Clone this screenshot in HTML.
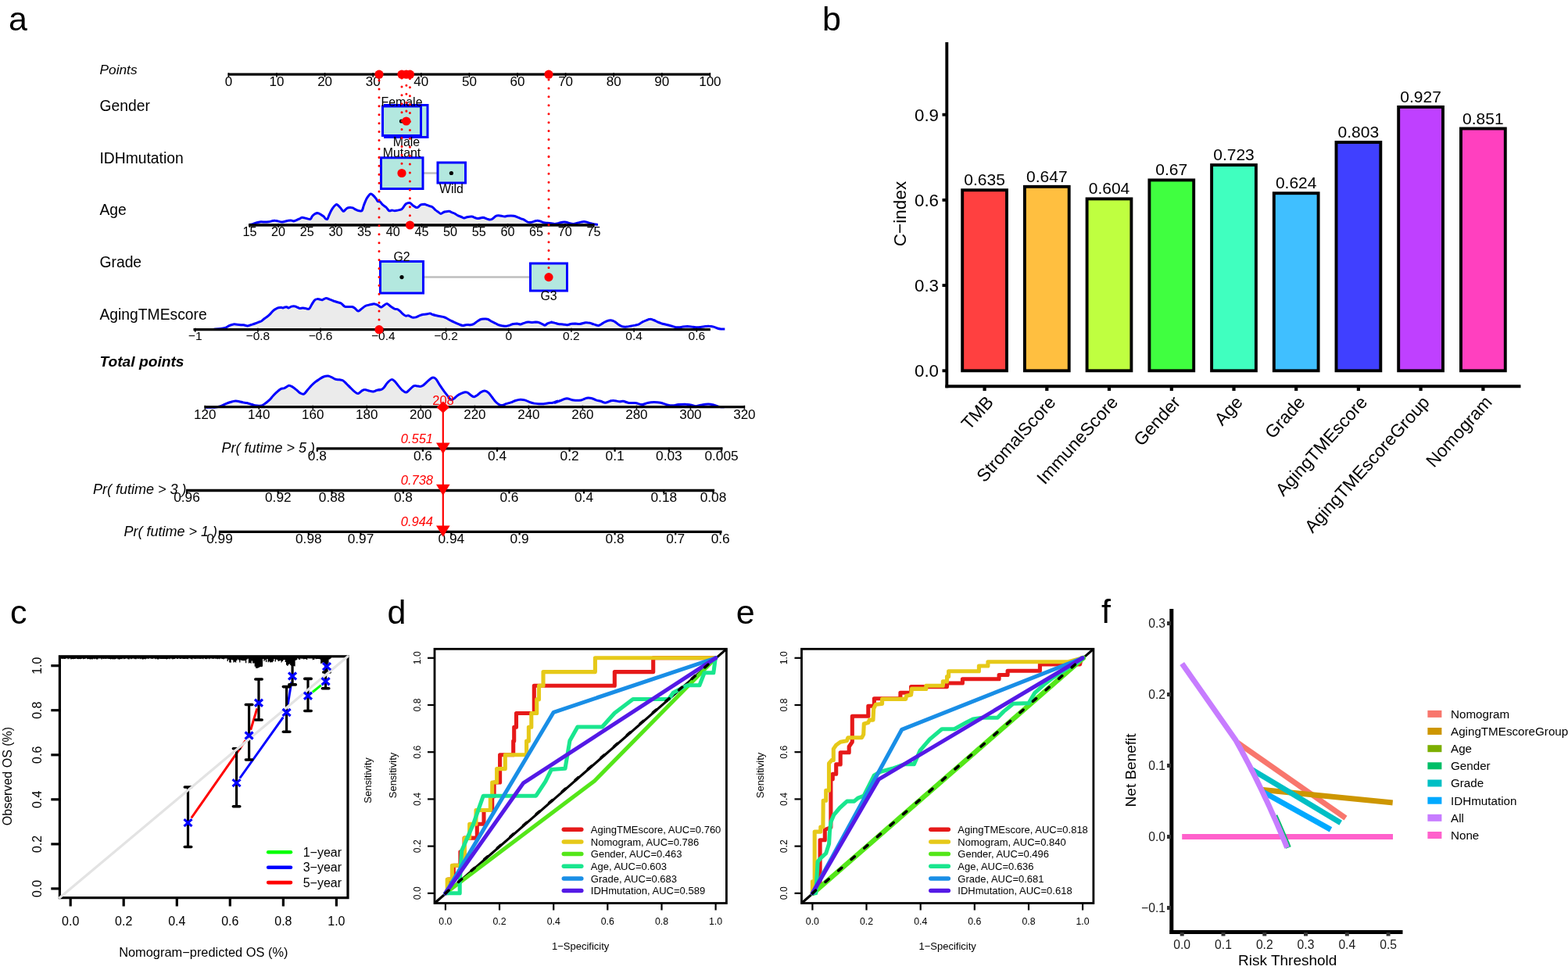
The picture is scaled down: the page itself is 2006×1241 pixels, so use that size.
<!DOCTYPE html>
<html><head><meta charset="utf-8"><title>Figure</title>
<style>html,body{margin:0;padding:0;background:#fff;} svg{display:block;}</style></head>
<body><svg width="2006" height="1241" viewBox="0 0 2006 1241" font-family="'Liberation Sans', Arial, sans-serif">
<rect width="2006" height="1241" fill="#fff"/>
<text x="11.0" y="39.0" font-size="43">a</text>
<text x="127.5" y="95.0" font-size="17.3" font-style="italic">Points</text>
<text x="127.5" y="142.2" font-size="19.3">Gender</text>
<text x="127.5" y="208.9" font-size="19.3">IDHmutation</text>
<text x="127.5" y="275.4" font-size="19.3">Age</text>
<text x="127.5" y="341.9" font-size="19.3">Grade</text>
<text x="127.5" y="408.6" font-size="19.3">AgingTMEscore</text>
<text x="127.5" y="468.5" font-size="19.2" font-style="italic" font-weight="bold">Total points</text>
<line x1="291.6" y1="95.2" x2="909.0" y2="95.2" stroke="#000" stroke-width="3.3"/>
<line x1="292.4" y1="93.2" x2="292.4" y2="98.7" stroke="#000" stroke-width="1.6"/>
<text x="292.4" y="110.0" font-size="17" text-anchor="middle">0</text>
<line x1="354.0" y1="93.2" x2="354.0" y2="98.7" stroke="#000" stroke-width="1.6"/>
<text x="354.0" y="110.0" font-size="17" text-anchor="middle">10</text>
<line x1="415.6" y1="93.2" x2="415.6" y2="98.7" stroke="#000" stroke-width="1.6"/>
<text x="415.6" y="110.0" font-size="17" text-anchor="middle">20</text>
<line x1="477.2" y1="93.2" x2="477.2" y2="98.7" stroke="#000" stroke-width="1.6"/>
<text x="477.2" y="110.0" font-size="17" text-anchor="middle">30</text>
<line x1="538.8" y1="93.2" x2="538.8" y2="98.7" stroke="#000" stroke-width="1.6"/>
<text x="538.8" y="110.0" font-size="17" text-anchor="middle">40</text>
<line x1="600.4" y1="93.2" x2="600.4" y2="98.7" stroke="#000" stroke-width="1.6"/>
<text x="600.4" y="110.0" font-size="17" text-anchor="middle">50</text>
<line x1="662.0" y1="93.2" x2="662.0" y2="98.7" stroke="#000" stroke-width="1.6"/>
<text x="662.0" y="110.0" font-size="17" text-anchor="middle">60</text>
<line x1="723.6" y1="93.2" x2="723.6" y2="98.7" stroke="#000" stroke-width="1.6"/>
<text x="723.6" y="110.0" font-size="17" text-anchor="middle">70</text>
<line x1="785.2" y1="93.2" x2="785.2" y2="98.7" stroke="#000" stroke-width="1.6"/>
<text x="785.2" y="110.0" font-size="17" text-anchor="middle">80</text>
<line x1="846.8" y1="93.2" x2="846.8" y2="98.7" stroke="#000" stroke-width="1.6"/>
<text x="846.8" y="110.0" font-size="17" text-anchor="middle">90</text>
<line x1="908.4" y1="93.2" x2="908.4" y2="98.7" stroke="#000" stroke-width="1.6"/>
<text x="908.4" y="110.0" font-size="17" text-anchor="middle">100</text>
<rect x="492.5" y="134.5" width="54.5" height="41.0" fill="#B3E8DF" stroke="#0000FF" stroke-width="3"/>
<rect x="489.5" y="136.0" width="49.0" height="37.5" fill="#B3E8DF" stroke="#0000FF" stroke-width="3"/>
<circle cx="513.5" cy="155" r="2.6" fill="#000"/>
<text x="514.0" y="136.0" font-size="15.9" text-anchor="middle">Female</text>
<text x="520.0" y="187.0" font-size="15.9" text-anchor="middle">Male</text>
<line x1="541.0" y1="221.5" x2="560.0" y2="221.5" stroke="#BEBEBE" stroke-width="2.5"/>
<rect x="487.5" y="201.8" width="53.5" height="39.7" fill="#B3E8DF" stroke="#0000FF" stroke-width="3"/>
<rect x="560.0" y="208.0" width="35.5" height="26.0" fill="#B3E8DF" stroke="#0000FF" stroke-width="3"/>
<circle cx="577.4" cy="221.5" r="2.6" fill="#000"/>
<text x="514.0" y="200.5" font-size="15.9" text-anchor="middle">Mutant</text>
<text x="577.5" y="246.5" font-size="15.9" text-anchor="middle">Wild</text>
<path d="M319.0,287.6C319.7,287.5 321.7,287.1 323.2,286.7C324.7,286.2 326.2,285.5 327.9,285.0C329.7,284.5 332.1,284.0 333.9,283.8C335.7,283.7 337.1,284.1 338.7,284.1C340.3,284.1 341.9,284.1 343.5,283.8C345.1,283.6 346.9,282.9 348.3,282.6C349.7,282.4 350.7,282.2 351.9,282.3C353.1,282.3 354.1,282.6 355.5,282.9C356.9,283.2 358.9,284.0 360.3,284.1C361.6,284.2 362.4,283.8 363.8,283.5C365.2,283.2 367.2,282.5 368.6,282.3C370.0,282.0 371.0,281.8 372.2,281.9C373.4,282.0 374.6,282.9 375.8,282.9C377.0,282.8 378.0,282.3 379.4,281.7C380.8,281.1 383.0,279.8 384.2,279.3C385.4,278.7 385.4,278.3 386.6,278.3C387.8,278.3 390.2,279.0 391.4,279.3C392.6,279.5 392.8,279.7 393.8,279.9C394.7,280.0 396.3,280.8 397.3,280.2C398.3,279.6 398.7,277.4 399.7,276.3C400.7,275.1 402.1,273.9 403.3,273.3C404.5,272.7 405.7,272.5 406.9,272.7C408.1,272.9 409.3,273.8 410.5,274.5C411.7,275.2 413.1,276.0 414.1,276.9C415.1,277.8 415.7,279.3 416.5,279.9C417.3,280.4 418.1,281.1 418.9,280.2C419.7,279.3 420.3,276.6 421.3,274.5C422.3,272.3 423.5,269.4 424.9,267.3C426.3,265.2 428.4,262.8 429.6,261.9C430.8,261.1 431.0,261.6 432.0,262.3C433.0,263.0 434.4,264.8 435.6,266.1C436.8,267.4 438.2,269.9 439.2,270.3C440.2,270.7 440.8,269.2 441.6,268.5C442.4,267.8 443.0,266.8 444.0,266.3C445.0,265.8 446.4,265.6 447.6,265.5C448.8,265.4 450.2,265.6 451.2,265.9C452.2,266.2 452.6,266.8 453.6,267.3C454.6,267.8 456.2,268.7 457.2,269.1C458.2,269.5 458.6,269.6 459.6,269.7C460.6,269.8 462.1,270.7 463.1,269.5C464.1,268.3 464.5,265.1 465.5,262.5C466.5,260.0 467.7,256.5 469.1,254.1C470.5,251.8 472.5,248.9 473.9,248.2C475.3,247.5 476.3,249.0 477.5,250.0C478.7,251.0 480.1,252.8 481.1,254.1C482.1,255.4 482.7,257.1 483.5,257.7C484.3,258.3 484.9,257.0 485.9,257.7C486.9,258.4 488.1,260.6 489.5,261.9C490.9,263.2 492.9,264.2 494.3,265.5C495.7,266.8 496.6,269.1 497.8,269.7C499.0,270.3 500.2,269.1 501.4,269.1C502.6,269.1 503.8,269.7 505.0,269.7C506.2,269.7 507.2,269.4 508.6,269.1C510.0,268.8 512.2,268.5 513.4,267.9C514.6,267.3 514.8,266.7 515.8,265.5C516.8,264.3 518.0,261.7 519.4,260.7C520.8,259.7 522.8,259.2 524.2,259.5C525.6,259.8 526.4,261.5 527.8,262.5C529.2,263.5 531.3,265.1 532.5,265.5C533.7,265.9 533.9,265.5 534.9,264.9C535.9,264.3 537.1,262.5 538.5,261.9C539.9,261.3 542.3,261.3 543.3,261.3C544.4,261.3 543.7,261.5 544.8,261.9C545.8,262.3 548.2,263.2 549.6,263.7C551.0,264.2 552.0,264.1 553.2,264.9C554.4,265.7 555.6,267.5 556.8,268.5C557.9,269.5 559.1,270.1 560.3,270.9C561.5,271.7 562.7,273.4 563.9,273.5C565.1,273.6 566.3,272.0 567.5,271.5C568.7,271.0 569.9,270.9 571.1,270.7C572.3,270.5 573.5,270.1 574.7,270.3C575.9,270.5 577.1,271.4 578.3,271.9C579.5,272.3 580.7,272.6 581.9,273.3C583.1,273.9 584.1,275.0 585.5,275.7C586.9,276.4 588.9,276.9 590.3,277.5C591.6,278.0 592.6,279.0 593.8,279.0C595.0,279.1 595.8,278.2 597.4,277.8C599.0,277.5 601.6,277.0 603.4,277.1C605.2,277.3 606.8,278.3 608.2,278.7C609.6,279.1 610.2,279.6 611.8,279.5C613.4,279.4 616.0,278.3 617.8,278.3C619.6,278.4 621.2,279.4 622.6,279.9C624.0,280.3 624.9,281.0 626.1,281.1C627.3,281.1 628.3,281.0 629.7,280.2C631.1,279.4 633.1,277.0 634.5,276.3C635.9,275.5 636.9,275.7 638.1,275.7C639.3,275.7 640.5,276.0 641.7,276.3C642.9,276.5 644.1,277.1 645.3,277.1C646.5,277.1 647.5,276.5 648.9,276.3C650.3,276.1 652.3,275.9 653.7,275.9C655.1,275.9 655.9,276.0 657.3,276.3C658.6,276.6 660.4,277.2 662.0,277.8C663.6,278.4 665.4,279.3 666.8,279.9C668.2,280.4 669.0,280.4 670.4,281.1C671.8,281.8 673.6,283.5 675.2,284.1C676.8,284.6 678.6,284.5 680.0,284.3C681.4,284.1 682.4,283.4 683.6,283.1C684.8,282.8 686.0,282.3 687.2,282.3C688.4,282.2 689.4,282.5 690.8,282.9C692.1,283.3 693.9,284.3 695.5,284.7C697.1,285.1 698.7,285.1 700.3,285.3C701.9,285.5 703.5,285.7 705.1,285.8C706.7,286.0 708.3,286.5 709.9,286.4C711.5,286.4 713.1,285.8 714.7,285.5C716.3,285.1 717.9,284.5 719.5,284.3C721.1,284.1 722.7,284.0 724.3,284.3C725.8,284.6 727.4,285.5 729.0,285.8C730.6,286.2 732.2,286.5 733.8,286.4C735.4,286.3 737.0,285.7 738.6,285.3C740.2,284.9 742.0,284.4 743.4,284.1C744.8,283.8 745.8,283.5 747.0,283.5C748.2,283.5 749.2,283.7 750.6,284.1C752.0,284.5 753.8,285.4 755.4,285.8C757.0,286.3 758.6,286.4 760.1,286.7C761.7,286.9 764.1,287.3 764.9,287.4L764.9,288.0L319.0,288.0Z" fill="#EBEBEB" stroke="none"/>
<path d="M319.0,287.6C319.7,287.5 321.7,287.1 323.2,286.7C324.7,286.2 326.2,285.5 327.9,285.0C329.7,284.5 332.1,284.0 333.9,283.8C335.7,283.7 337.1,284.1 338.7,284.1C340.3,284.1 341.9,284.1 343.5,283.8C345.1,283.6 346.9,282.9 348.3,282.6C349.7,282.4 350.7,282.2 351.9,282.3C353.1,282.3 354.1,282.6 355.5,282.9C356.9,283.2 358.9,284.0 360.3,284.1C361.6,284.2 362.4,283.8 363.8,283.5C365.2,283.2 367.2,282.5 368.6,282.3C370.0,282.0 371.0,281.8 372.2,281.9C373.4,282.0 374.6,282.9 375.8,282.9C377.0,282.8 378.0,282.3 379.4,281.7C380.8,281.1 383.0,279.8 384.2,279.3C385.4,278.7 385.4,278.3 386.6,278.3C387.8,278.3 390.2,279.0 391.4,279.3C392.6,279.5 392.8,279.7 393.8,279.9C394.7,280.0 396.3,280.8 397.3,280.2C398.3,279.6 398.7,277.4 399.7,276.3C400.7,275.1 402.1,273.9 403.3,273.3C404.5,272.7 405.7,272.5 406.9,272.7C408.1,272.9 409.3,273.8 410.5,274.5C411.7,275.2 413.1,276.0 414.1,276.9C415.1,277.8 415.7,279.3 416.5,279.9C417.3,280.4 418.1,281.1 418.9,280.2C419.7,279.3 420.3,276.6 421.3,274.5C422.3,272.3 423.5,269.4 424.9,267.3C426.3,265.2 428.4,262.8 429.6,261.9C430.8,261.1 431.0,261.6 432.0,262.3C433.0,263.0 434.4,264.8 435.6,266.1C436.8,267.4 438.2,269.9 439.2,270.3C440.2,270.7 440.8,269.2 441.6,268.5C442.4,267.8 443.0,266.8 444.0,266.3C445.0,265.8 446.4,265.6 447.6,265.5C448.8,265.4 450.2,265.6 451.2,265.9C452.2,266.2 452.6,266.8 453.6,267.3C454.6,267.8 456.2,268.7 457.2,269.1C458.2,269.5 458.6,269.6 459.6,269.7C460.6,269.8 462.1,270.7 463.1,269.5C464.1,268.3 464.5,265.1 465.5,262.5C466.5,260.0 467.7,256.5 469.1,254.1C470.5,251.8 472.5,248.9 473.9,248.2C475.3,247.5 476.3,249.0 477.5,250.0C478.7,251.0 480.1,252.8 481.1,254.1C482.1,255.4 482.7,257.1 483.5,257.7C484.3,258.3 484.9,257.0 485.9,257.7C486.9,258.4 488.1,260.6 489.5,261.9C490.9,263.2 492.9,264.2 494.3,265.5C495.7,266.8 496.6,269.1 497.8,269.7C499.0,270.3 500.2,269.1 501.4,269.1C502.6,269.1 503.8,269.7 505.0,269.7C506.2,269.7 507.2,269.4 508.6,269.1C510.0,268.8 512.2,268.5 513.4,267.9C514.6,267.3 514.8,266.7 515.8,265.5C516.8,264.3 518.0,261.7 519.4,260.7C520.8,259.7 522.8,259.2 524.2,259.5C525.6,259.8 526.4,261.5 527.8,262.5C529.2,263.5 531.3,265.1 532.5,265.5C533.7,265.9 533.9,265.5 534.9,264.9C535.9,264.3 537.1,262.5 538.5,261.9C539.9,261.3 542.3,261.3 543.3,261.3C544.4,261.3 543.7,261.5 544.8,261.9C545.8,262.3 548.2,263.2 549.6,263.7C551.0,264.2 552.0,264.1 553.2,264.9C554.4,265.7 555.6,267.5 556.8,268.5C557.9,269.5 559.1,270.1 560.3,270.9C561.5,271.7 562.7,273.4 563.9,273.5C565.1,273.6 566.3,272.0 567.5,271.5C568.7,271.0 569.9,270.9 571.1,270.7C572.3,270.5 573.5,270.1 574.7,270.3C575.9,270.5 577.1,271.4 578.3,271.9C579.5,272.3 580.7,272.6 581.9,273.3C583.1,273.9 584.1,275.0 585.5,275.7C586.9,276.4 588.9,276.9 590.3,277.5C591.6,278.0 592.6,279.0 593.8,279.0C595.0,279.1 595.8,278.2 597.4,277.8C599.0,277.5 601.6,277.0 603.4,277.1C605.2,277.3 606.8,278.3 608.2,278.7C609.6,279.1 610.2,279.6 611.8,279.5C613.4,279.4 616.0,278.3 617.8,278.3C619.6,278.4 621.2,279.4 622.6,279.9C624.0,280.3 624.9,281.0 626.1,281.1C627.3,281.1 628.3,281.0 629.7,280.2C631.1,279.4 633.1,277.0 634.5,276.3C635.9,275.5 636.9,275.7 638.1,275.7C639.3,275.7 640.5,276.0 641.7,276.3C642.9,276.5 644.1,277.1 645.3,277.1C646.5,277.1 647.5,276.5 648.9,276.3C650.3,276.1 652.3,275.9 653.7,275.9C655.1,275.9 655.9,276.0 657.3,276.3C658.6,276.6 660.4,277.2 662.0,277.8C663.6,278.4 665.4,279.3 666.8,279.9C668.2,280.4 669.0,280.4 670.4,281.1C671.8,281.8 673.6,283.5 675.2,284.1C676.8,284.6 678.6,284.5 680.0,284.3C681.4,284.1 682.4,283.4 683.6,283.1C684.8,282.8 686.0,282.3 687.2,282.3C688.4,282.2 689.4,282.5 690.8,282.9C692.1,283.3 693.9,284.3 695.5,284.7C697.1,285.1 698.7,285.1 700.3,285.3C701.9,285.5 703.5,285.7 705.1,285.8C706.7,286.0 708.3,286.5 709.9,286.4C711.5,286.4 713.1,285.8 714.7,285.5C716.3,285.1 717.9,284.5 719.5,284.3C721.1,284.1 722.7,284.0 724.3,284.3C725.8,284.6 727.4,285.5 729.0,285.8C730.6,286.2 732.2,286.5 733.8,286.4C735.4,286.3 737.0,285.7 738.6,285.3C740.2,284.9 742.0,284.4 743.4,284.1C744.8,283.8 745.8,283.5 747.0,283.5C748.2,283.5 749.2,283.7 750.6,284.1C752.0,284.5 753.8,285.4 755.4,285.8C757.0,286.3 758.6,286.4 760.1,286.7C761.7,286.9 764.1,287.3 764.9,287.4" fill="none" stroke="#0000FF" stroke-width="3" stroke-linejoin="round"/>
<line x1="318.0" y1="288.0" x2="760.5" y2="288.0" stroke="#000" stroke-width="3.3"/>
<line x1="319.4" y1="286.0" x2="319.4" y2="291.0" stroke="#000" stroke-width="1.6"/>
<text x="319.4" y="302.2" font-size="16.2" text-anchor="middle">15</text>
<line x1="356.1" y1="286.0" x2="356.1" y2="291.0" stroke="#000" stroke-width="1.6"/>
<text x="356.1" y="302.2" font-size="16.2" text-anchor="middle">20</text>
<line x1="392.8" y1="286.0" x2="392.8" y2="291.0" stroke="#000" stroke-width="1.6"/>
<text x="392.8" y="302.2" font-size="16.2" text-anchor="middle">25</text>
<line x1="429.4" y1="286.0" x2="429.4" y2="291.0" stroke="#000" stroke-width="1.6"/>
<text x="429.4" y="302.2" font-size="16.2" text-anchor="middle">30</text>
<line x1="466.1" y1="286.0" x2="466.1" y2="291.0" stroke="#000" stroke-width="1.6"/>
<text x="466.1" y="302.2" font-size="16.2" text-anchor="middle">35</text>
<line x1="502.8" y1="286.0" x2="502.8" y2="291.0" stroke="#000" stroke-width="1.6"/>
<text x="502.8" y="302.2" font-size="16.2" text-anchor="middle">40</text>
<line x1="539.5" y1="286.0" x2="539.5" y2="291.0" stroke="#000" stroke-width="1.6"/>
<text x="539.5" y="302.2" font-size="16.2" text-anchor="middle">45</text>
<line x1="576.1" y1="286.0" x2="576.1" y2="291.0" stroke="#000" stroke-width="1.6"/>
<text x="576.1" y="302.2" font-size="16.2" text-anchor="middle">50</text>
<line x1="612.8" y1="286.0" x2="612.8" y2="291.0" stroke="#000" stroke-width="1.6"/>
<text x="612.8" y="302.2" font-size="16.2" text-anchor="middle">55</text>
<line x1="649.5" y1="286.0" x2="649.5" y2="291.0" stroke="#000" stroke-width="1.6"/>
<text x="649.5" y="302.2" font-size="16.2" text-anchor="middle">60</text>
<line x1="686.1" y1="286.0" x2="686.1" y2="291.0" stroke="#000" stroke-width="1.6"/>
<text x="686.1" y="302.2" font-size="16.2" text-anchor="middle">65</text>
<line x1="722.8" y1="286.0" x2="722.8" y2="291.0" stroke="#000" stroke-width="1.6"/>
<text x="722.8" y="302.2" font-size="16.2" text-anchor="middle">70</text>
<line x1="759.5" y1="286.0" x2="759.5" y2="291.0" stroke="#000" stroke-width="1.6"/>
<text x="759.5" y="302.2" font-size="16.2" text-anchor="middle">75</text>
<line x1="541.5" y1="354.6" x2="678.0" y2="354.6" stroke="#BEBEBE" stroke-width="2.5"/>
<rect x="486.5" y="334.5" width="55.0" height="40.5" fill="#B3E8DF" stroke="#0000FF" stroke-width="3"/>
<rect x="678.5" y="337.0" width="47.0" height="35.0" fill="#B3E8DF" stroke="#0000FF" stroke-width="3"/>
<circle cx="514" cy="354.6" r="2.6" fill="#000"/>
<text x="514.0" y="334.0" font-size="15.9" text-anchor="middle">G2</text>
<text x="702.0" y="384.0" font-size="15.9" text-anchor="middle">G3</text>
<path d="M273.5,421.2C274.5,421.1 277.5,421.0 279.5,420.8C281.5,420.7 283.9,420.3 285.5,420.0C287.1,419.7 287.7,419.7 289.1,419.1C290.5,418.5 292.2,417.1 293.8,416.4C295.4,415.7 297.0,415.1 298.6,414.9C300.2,414.7 301.8,415.1 303.4,415.2C305.0,415.4 306.8,415.6 308.2,415.7C309.6,415.8 310.4,415.5 311.8,415.7C313.2,415.9 315.0,416.9 316.6,416.9C318.2,416.9 319.8,415.9 321.4,415.5C323.0,415.0 324.5,414.6 326.1,414.0C327.7,413.5 329.5,412.7 330.9,412.1C332.3,411.6 333.3,411.4 334.5,410.7C335.7,409.9 336.9,408.6 338.1,407.7C339.3,406.8 340.5,406.2 341.7,405.3C342.9,404.4 344.1,403.3 345.3,402.1C346.5,400.9 347.7,399.2 348.9,398.1C350.1,397.0 351.3,396.1 352.5,395.4C353.7,394.6 354.9,394.0 356.1,393.7C357.3,393.4 358.6,393.3 359.6,393.3C360.6,393.4 361.2,394.0 362.0,393.9C362.8,393.9 363.6,393.2 364.4,393.0C365.2,392.8 366.0,392.6 366.8,392.7C367.6,392.9 368.2,394.0 369.2,393.9C370.2,393.8 371.6,392.5 372.8,392.1C374.0,391.8 375.2,391.6 376.4,391.8C377.6,391.9 378.8,392.5 380.0,393.0C381.2,393.4 382.4,394.4 383.6,394.5C384.8,394.7 386.0,393.9 387.2,393.9C388.4,393.9 389.4,394.3 390.8,394.5C392.1,394.7 394.1,396.0 395.5,395.1C396.9,394.2 397.9,391.0 399.1,389.1C400.3,387.2 401.5,384.9 402.7,383.8C403.9,382.7 405.1,382.7 406.3,382.6C407.5,382.5 408.9,383.0 409.9,383.2C410.9,383.4 411.1,384.1 412.3,383.8C413.5,383.5 415.5,381.5 417.1,381.4C418.7,381.3 420.3,382.6 421.9,383.2C423.5,383.8 425.1,384.4 426.6,385.0C428.2,385.5 429.8,386.0 431.4,386.5C433.0,387.0 434.6,387.0 436.2,387.9C437.8,388.9 439.4,391.4 441.0,392.1C442.6,392.9 444.2,392.4 445.8,392.5C447.4,392.6 449.2,392.2 450.6,392.5C452.0,392.8 452.9,393.6 454.2,394.5C455.5,395.5 457.0,398.0 458.4,398.1C459.7,398.2 461.0,396.2 462.5,395.1C464.0,394.0 465.7,392.4 467.3,391.5C468.9,390.7 470.5,390.5 472.1,390.1C473.7,389.7 476.5,389.3 476.9,389.1C477.3,389.0 474.3,389.4 474.8,389.4C475.2,389.3 478.2,388.7 479.6,388.9C481.0,389.1 481.9,389.7 483.2,390.3C484.5,391.0 486.1,392.9 487.3,393.0C488.6,393.1 489.6,391.7 490.9,390.9C492.2,390.2 493.6,388.3 495.1,388.5C496.6,388.7 498.3,391.0 499.9,392.1C501.5,393.2 503.3,394.5 504.7,395.1C506.1,395.7 507.1,395.2 508.3,395.7C509.5,396.2 510.7,397.1 511.9,398.1C513.1,399.1 514.3,400.7 515.5,401.7C516.7,402.7 517.9,403.8 519.1,404.1C520.3,404.4 521.2,403.4 522.6,403.7C524.0,404.1 525.8,405.8 527.4,406.1C529.0,406.5 530.6,406.3 532.2,405.9C533.8,405.5 535.4,404.3 537.0,403.7C538.6,403.1 540.2,402.6 541.8,402.3C543.4,402.0 545.2,401.9 546.6,401.7C548.0,401.5 549.0,401.0 550.2,401.1C551.4,401.2 552.4,402.1 553.8,402.5C555.1,403.0 556.9,403.4 558.5,403.7C560.1,404.1 561.7,404.4 563.3,404.7C564.9,405.0 566.5,405.1 568.1,405.7C569.7,406.2 571.3,407.2 572.9,408.0C574.5,408.9 576.1,409.9 577.7,410.7C579.3,411.5 580.9,412.1 582.5,412.8C584.1,413.5 585.7,414.3 587.3,414.9C588.8,415.5 590.4,416.3 592.0,416.4C593.6,416.5 595.2,415.6 596.8,415.5C598.4,415.3 600.0,415.9 601.6,415.7C603.2,415.5 604.8,415.1 606.4,414.3C608.0,413.4 609.6,411.7 611.2,410.7C612.8,409.7 614.4,408.7 616.0,408.3C617.6,407.8 619.4,408.0 620.8,408.0C622.1,408.1 622.9,408.0 624.3,408.5C625.7,409.1 627.5,410.4 629.1,411.3C630.7,412.1 632.5,412.9 633.9,413.7C635.3,414.4 636.1,415.2 637.5,415.7C638.9,416.2 640.7,416.4 642.3,416.7C643.9,416.9 645.5,417.4 647.1,417.3C648.7,417.2 650.3,416.5 651.9,416.1C653.5,415.6 655.1,414.8 656.6,414.5C658.2,414.2 659.8,414.0 661.4,414.0C663.0,414.1 664.6,415.0 666.2,414.9C667.8,414.7 669.4,413.5 671.0,413.1C672.6,412.6 674.2,412.2 675.8,412.1C677.4,412.0 679.0,412.5 680.6,412.5C682.2,412.5 683.8,412.1 685.4,412.1C687.0,412.2 688.6,412.3 690.1,412.8C691.7,413.4 693.7,414.7 694.9,415.2C696.1,415.8 696.3,416.3 697.3,416.1C698.3,415.8 699.5,414.3 700.9,413.7C702.3,413.0 705.1,412.3 705.7,412.1C706.3,411.9 704.1,412.3 704.8,412.5C705.4,412.6 708.0,412.7 709.6,413.1C711.2,413.4 712.6,414.2 714.4,414.5C716.2,414.8 718.4,414.7 720.3,414.9C722.2,415.1 723.9,415.8 725.7,415.7C727.5,415.6 729.4,414.5 731.1,414.3C732.8,414.0 734.1,414.0 735.9,414.0C737.7,414.1 739.7,414.7 741.9,414.5C744.1,414.3 747.1,413.1 749.1,412.8C751.0,412.6 752.0,412.7 753.8,413.1C755.6,413.4 757.8,414.3 759.8,414.9C761.8,415.4 763.8,416.7 765.8,416.4C767.8,416.1 770.0,414.0 771.8,413.1C773.6,412.1 775.0,411.2 776.6,410.7C778.2,410.1 779.8,409.6 781.4,409.7C783.0,409.8 784.5,410.4 786.1,411.3C787.7,412.1 789.3,413.8 790.9,414.9C792.5,415.9 793.9,417.1 795.7,417.6C797.5,418.2 799.7,418.2 801.7,418.1C803.7,418.0 805.9,417.2 807.7,416.9C809.5,416.6 810.9,416.4 812.5,416.1C814.1,415.7 815.7,415.6 817.3,414.9C818.8,414.2 820.4,412.7 822.0,411.9C823.6,411.0 825.2,410.4 826.8,409.8C828.4,409.2 830.0,408.3 831.6,408.3C833.2,408.2 834.8,408.9 836.4,409.5C838.0,410.1 839.6,411.2 841.2,411.9C842.8,412.6 844.2,413.1 846.0,413.7C847.8,414.2 850.0,414.7 852.0,415.2C853.9,415.7 855.9,416.1 857.9,416.7C859.9,417.2 862.1,418.1 863.9,418.5C865.7,418.8 867.1,418.9 868.7,418.8C870.3,418.8 871.7,418.3 873.5,418.1C875.3,417.9 877.7,417.7 879.5,417.6C881.3,417.6 882.5,417.7 884.3,417.9C886.0,418.1 888.2,418.7 890.2,418.8C892.2,418.9 894.2,418.7 896.2,418.5C898.2,418.3 900.4,417.8 902.2,417.6C904.0,417.4 905.2,417.2 907.0,417.3C908.8,417.3 911.2,417.6 913.0,418.1C914.8,418.6 916.2,419.5 917.8,420.0C919.4,420.5 920.9,420.8 922.5,421.0C924.1,421.1 926.5,421.0 927.3,421.0L927.3,421.7L273.5,421.7Z" fill="#EBEBEB" stroke="none"/>
<path d="M273.5,421.2C274.5,421.1 277.5,421.0 279.5,420.8C281.5,420.7 283.9,420.3 285.5,420.0C287.1,419.7 287.7,419.7 289.1,419.1C290.5,418.5 292.2,417.1 293.8,416.4C295.4,415.7 297.0,415.1 298.6,414.9C300.2,414.7 301.8,415.1 303.4,415.2C305.0,415.4 306.8,415.6 308.2,415.7C309.6,415.8 310.4,415.5 311.8,415.7C313.2,415.9 315.0,416.9 316.6,416.9C318.2,416.9 319.8,415.9 321.4,415.5C323.0,415.0 324.5,414.6 326.1,414.0C327.7,413.5 329.5,412.7 330.9,412.1C332.3,411.6 333.3,411.4 334.5,410.7C335.7,409.9 336.9,408.6 338.1,407.7C339.3,406.8 340.5,406.2 341.7,405.3C342.9,404.4 344.1,403.3 345.3,402.1C346.5,400.9 347.7,399.2 348.9,398.1C350.1,397.0 351.3,396.1 352.5,395.4C353.7,394.6 354.9,394.0 356.1,393.7C357.3,393.4 358.6,393.3 359.6,393.3C360.6,393.4 361.2,394.0 362.0,393.9C362.8,393.9 363.6,393.2 364.4,393.0C365.2,392.8 366.0,392.6 366.8,392.7C367.6,392.9 368.2,394.0 369.2,393.9C370.2,393.8 371.6,392.5 372.8,392.1C374.0,391.8 375.2,391.6 376.4,391.8C377.6,391.9 378.8,392.5 380.0,393.0C381.2,393.4 382.4,394.4 383.6,394.5C384.8,394.7 386.0,393.9 387.2,393.9C388.4,393.9 389.4,394.3 390.8,394.5C392.1,394.7 394.1,396.0 395.5,395.1C396.9,394.2 397.9,391.0 399.1,389.1C400.3,387.2 401.5,384.9 402.7,383.8C403.9,382.7 405.1,382.7 406.3,382.6C407.5,382.5 408.9,383.0 409.9,383.2C410.9,383.4 411.1,384.1 412.3,383.8C413.5,383.5 415.5,381.5 417.1,381.4C418.7,381.3 420.3,382.6 421.9,383.2C423.5,383.8 425.1,384.4 426.6,385.0C428.2,385.5 429.8,386.0 431.4,386.5C433.0,387.0 434.6,387.0 436.2,387.9C437.8,388.9 439.4,391.4 441.0,392.1C442.6,392.9 444.2,392.4 445.8,392.5C447.4,392.6 449.2,392.2 450.6,392.5C452.0,392.8 452.9,393.6 454.2,394.5C455.5,395.5 457.0,398.0 458.4,398.1C459.7,398.2 461.0,396.2 462.5,395.1C464.0,394.0 465.7,392.4 467.3,391.5C468.9,390.7 470.5,390.5 472.1,390.1C473.7,389.7 476.5,389.3 476.9,389.1C477.3,389.0 474.3,389.4 474.8,389.4C475.2,389.3 478.2,388.7 479.6,388.9C481.0,389.1 481.9,389.7 483.2,390.3C484.5,391.0 486.1,392.9 487.3,393.0C488.6,393.1 489.6,391.7 490.9,390.9C492.2,390.2 493.6,388.3 495.1,388.5C496.6,388.7 498.3,391.0 499.9,392.1C501.5,393.2 503.3,394.5 504.7,395.1C506.1,395.7 507.1,395.2 508.3,395.7C509.5,396.2 510.7,397.1 511.9,398.1C513.1,399.1 514.3,400.7 515.5,401.7C516.7,402.7 517.9,403.8 519.1,404.1C520.3,404.4 521.2,403.4 522.6,403.7C524.0,404.1 525.8,405.8 527.4,406.1C529.0,406.5 530.6,406.3 532.2,405.9C533.8,405.5 535.4,404.3 537.0,403.7C538.6,403.1 540.2,402.6 541.8,402.3C543.4,402.0 545.2,401.9 546.6,401.7C548.0,401.5 549.0,401.0 550.2,401.1C551.4,401.2 552.4,402.1 553.8,402.5C555.1,403.0 556.9,403.4 558.5,403.7C560.1,404.1 561.7,404.4 563.3,404.7C564.9,405.0 566.5,405.1 568.1,405.7C569.7,406.2 571.3,407.2 572.9,408.0C574.5,408.9 576.1,409.9 577.7,410.7C579.3,411.5 580.9,412.1 582.5,412.8C584.1,413.5 585.7,414.3 587.3,414.9C588.8,415.5 590.4,416.3 592.0,416.4C593.6,416.5 595.2,415.6 596.8,415.5C598.4,415.3 600.0,415.9 601.6,415.7C603.2,415.5 604.8,415.1 606.4,414.3C608.0,413.4 609.6,411.7 611.2,410.7C612.8,409.7 614.4,408.7 616.0,408.3C617.6,407.8 619.4,408.0 620.8,408.0C622.1,408.1 622.9,408.0 624.3,408.5C625.7,409.1 627.5,410.4 629.1,411.3C630.7,412.1 632.5,412.9 633.9,413.7C635.3,414.4 636.1,415.2 637.5,415.7C638.9,416.2 640.7,416.4 642.3,416.7C643.9,416.9 645.5,417.4 647.1,417.3C648.7,417.2 650.3,416.5 651.9,416.1C653.5,415.6 655.1,414.8 656.6,414.5C658.2,414.2 659.8,414.0 661.4,414.0C663.0,414.1 664.6,415.0 666.2,414.9C667.8,414.7 669.4,413.5 671.0,413.1C672.6,412.6 674.2,412.2 675.8,412.1C677.4,412.0 679.0,412.5 680.6,412.5C682.2,412.5 683.8,412.1 685.4,412.1C687.0,412.2 688.6,412.3 690.1,412.8C691.7,413.4 693.7,414.7 694.9,415.2C696.1,415.8 696.3,416.3 697.3,416.1C698.3,415.8 699.5,414.3 700.9,413.7C702.3,413.0 705.1,412.3 705.7,412.1C706.3,411.9 704.1,412.3 704.8,412.5C705.4,412.6 708.0,412.7 709.6,413.1C711.2,413.4 712.6,414.2 714.4,414.5C716.2,414.8 718.4,414.7 720.3,414.9C722.2,415.1 723.9,415.8 725.7,415.7C727.5,415.6 729.4,414.5 731.1,414.3C732.8,414.0 734.1,414.0 735.9,414.0C737.7,414.1 739.7,414.7 741.9,414.5C744.1,414.3 747.1,413.1 749.1,412.8C751.0,412.6 752.0,412.7 753.8,413.1C755.6,413.4 757.8,414.3 759.8,414.9C761.8,415.4 763.8,416.7 765.8,416.4C767.8,416.1 770.0,414.0 771.8,413.1C773.6,412.1 775.0,411.2 776.6,410.7C778.2,410.1 779.8,409.6 781.4,409.7C783.0,409.8 784.5,410.4 786.1,411.3C787.7,412.1 789.3,413.8 790.9,414.9C792.5,415.9 793.9,417.1 795.7,417.6C797.5,418.2 799.7,418.2 801.7,418.1C803.7,418.0 805.9,417.2 807.7,416.9C809.5,416.6 810.9,416.4 812.5,416.1C814.1,415.7 815.7,415.6 817.3,414.9C818.8,414.2 820.4,412.7 822.0,411.9C823.6,411.0 825.2,410.4 826.8,409.8C828.4,409.2 830.0,408.3 831.6,408.3C833.2,408.2 834.8,408.9 836.4,409.5C838.0,410.1 839.6,411.2 841.2,411.9C842.8,412.6 844.2,413.1 846.0,413.7C847.8,414.2 850.0,414.7 852.0,415.2C853.9,415.7 855.9,416.1 857.9,416.7C859.9,417.2 862.1,418.1 863.9,418.5C865.7,418.8 867.1,418.9 868.7,418.8C870.3,418.8 871.7,418.3 873.5,418.1C875.3,417.9 877.7,417.7 879.5,417.6C881.3,417.6 882.5,417.7 884.3,417.9C886.0,418.1 888.2,418.7 890.2,418.8C892.2,418.9 894.2,418.7 896.2,418.5C898.2,418.3 900.4,417.8 902.2,417.6C904.0,417.4 905.2,417.2 907.0,417.3C908.8,417.3 911.2,417.6 913.0,418.1C914.8,418.6 916.2,419.5 917.8,420.0C919.4,420.5 920.9,420.8 922.5,421.0C924.1,421.1 926.5,421.0 927.3,421.0" fill="none" stroke="#0000FF" stroke-width="3" stroke-linejoin="round"/>
<line x1="247.5" y1="421.7" x2="908.8" y2="421.7" stroke="#000" stroke-width="3.3"/>
<line x1="249.7" y1="419.7" x2="249.7" y2="424.7" stroke="#000" stroke-width="1.6"/>
<text x="249.7" y="435.0" font-size="15.5" text-anchor="middle">−1</text>
<line x1="329.9" y1="419.7" x2="329.9" y2="424.7" stroke="#000" stroke-width="1.6"/>
<text x="329.9" y="435.0" font-size="15.5" text-anchor="middle">−0.8</text>
<line x1="410.1" y1="419.7" x2="410.1" y2="424.7" stroke="#000" stroke-width="1.6"/>
<text x="410.1" y="435.0" font-size="15.5" text-anchor="middle">−0.6</text>
<line x1="490.3" y1="419.7" x2="490.3" y2="424.7" stroke="#000" stroke-width="1.6"/>
<text x="490.3" y="435.0" font-size="15.5" text-anchor="middle">−0.4</text>
<line x1="570.5" y1="419.7" x2="570.5" y2="424.7" stroke="#000" stroke-width="1.6"/>
<text x="570.5" y="435.0" font-size="15.5" text-anchor="middle">−0.2</text>
<line x1="650.7" y1="419.7" x2="650.7" y2="424.7" stroke="#000" stroke-width="1.6"/>
<text x="650.7" y="435.0" font-size="15.5" text-anchor="middle">0</text>
<line x1="730.9" y1="419.7" x2="730.9" y2="424.7" stroke="#000" stroke-width="1.6"/>
<text x="730.9" y="435.0" font-size="15.5" text-anchor="middle">0.2</text>
<line x1="811.1" y1="419.7" x2="811.1" y2="424.7" stroke="#000" stroke-width="1.6"/>
<text x="811.1" y="435.0" font-size="15.5" text-anchor="middle">0.4</text>
<line x1="891.3" y1="419.7" x2="891.3" y2="424.7" stroke="#000" stroke-width="1.6"/>
<text x="891.3" y="435.0" font-size="15.5" text-anchor="middle">0.6</text>
<path d="M262.0,521.2C264.0,521.2 270.7,521.4 273.9,521.2C277.1,521.0 278.7,520.7 281.1,520.0C283.5,519.3 285.9,517.9 288.3,516.9C290.7,515.9 293.3,514.9 295.5,514.3C297.7,513.6 299.7,513.2 301.4,513.1C303.2,513.0 304.6,513.4 306.2,513.7C307.8,514.0 309.4,514.6 311.0,514.9C312.6,515.2 314.0,515.1 315.8,515.5C317.6,515.9 320.0,516.7 321.8,517.3C323.6,517.8 324.6,518.5 326.6,518.8C328.6,519.1 331.8,519.4 333.8,519.1C335.7,518.7 336.7,517.9 338.5,516.7C340.3,515.5 342.7,513.6 344.5,511.9C346.3,510.2 347.7,508.2 349.3,506.5C350.9,504.8 352.5,503.2 354.1,501.7C355.7,500.3 357.3,498.6 358.9,497.8C360.5,496.9 361.9,497.3 363.7,496.6C365.5,495.8 367.9,493.6 369.6,493.3C371.4,493.1 372.8,494.2 374.4,495.1C376.0,496.0 377.6,497.4 379.2,498.7C380.8,500.0 382.4,502.0 384.0,502.9C385.6,503.8 387.2,504.8 388.8,504.1C390.4,503.4 392.0,500.5 393.6,498.7C395.2,496.9 396.8,495.0 398.4,493.3C400.0,491.7 401.6,490.2 403.1,488.9C404.7,487.6 406.1,486.7 407.9,485.6C409.7,484.4 411.9,482.7 413.9,482.0C415.9,481.2 418.1,480.8 419.9,481.0C421.7,481.2 423.1,482.2 424.7,482.9C426.3,483.6 427.9,484.8 429.5,485.3C431.1,485.8 432.7,485.5 434.3,485.8C435.8,486.1 437.4,486.0 439.0,487.0C440.6,487.9 442.2,490.0 443.8,491.5C445.4,493.1 447.0,494.8 448.6,496.3C450.2,497.9 451.8,499.7 453.4,500.9C455.0,502.1 456.6,503.7 458.2,503.5C459.8,503.3 461.6,500.7 463.0,499.9C464.4,499.1 465.2,498.5 466.6,498.5C468.0,498.4 469.6,499.3 471.3,499.7C473.1,500.1 475.5,500.9 477.3,500.9C479.1,500.8 480.5,499.7 482.1,499.3C483.7,498.9 486.7,498.6 486.9,498.5C487.1,498.4 483.5,498.7 483.6,498.7C483.6,498.8 486.0,499.1 487.2,498.7C488.4,498.3 489.4,497.8 490.8,496.3C492.2,494.8 493.9,491.5 495.6,489.7C497.2,487.9 499.3,485.9 500.9,485.6C502.5,485.3 503.6,486.6 505.1,487.9C506.6,489.3 508.3,492.0 509.9,493.9C511.5,495.8 513.1,498.0 514.7,499.3C516.3,500.7 517.9,502.3 519.5,502.1C521.1,501.9 522.7,499.5 524.3,498.1C525.9,496.8 527.7,494.7 529.1,493.9C530.5,493.2 531.2,493.6 532.6,493.7C534.0,493.8 536.0,494.6 537.4,494.5C538.8,494.5 539.4,494.4 541.0,493.3C542.6,492.2 545.0,489.6 547.0,487.9C549.0,486.3 551.2,483.7 553.0,483.2C554.8,482.7 556.2,483.4 557.8,485.0C559.4,486.6 560.8,490.0 562.6,492.7C564.4,495.4 566.7,498.7 568.5,501.1C570.3,503.5 571.9,505.4 573.3,507.1C574.7,508.8 575.7,510.8 576.9,511.3C578.1,511.8 579.1,511.0 580.5,510.1C581.9,509.2 583.7,507.0 585.3,505.9C586.9,504.8 588.5,504.0 590.1,503.3C591.7,502.6 593.5,501.9 594.9,501.7C596.3,501.5 597.3,501.7 598.4,502.3C599.6,502.9 600.7,504.4 602.0,505.3C603.3,506.2 604.8,507.6 606.2,507.7C607.6,507.7 608.9,506.7 610.4,505.7C611.9,504.7 613.6,502.7 615.2,501.7C616.8,500.7 618.4,499.8 620.0,499.9C621.6,500.0 623.2,500.9 624.8,502.3C626.4,503.7 628.0,506.3 629.6,508.3C631.2,510.3 632.7,512.7 634.3,514.3C635.9,515.9 637.7,517.2 639.1,517.9C640.5,518.6 641.3,518.7 642.7,518.5C644.1,518.3 645.7,517.3 647.5,516.7C649.3,516.1 651.5,515.6 653.5,514.9C655.5,514.2 657.5,513.1 659.5,512.5C661.5,511.9 663.5,511.4 665.5,511.3C667.4,511.2 669.4,511.4 671.4,511.9C673.4,512.4 675.4,513.6 677.4,514.3C679.4,515.0 681.4,515.7 683.4,516.1C685.4,516.5 687.4,516.6 689.4,516.7C691.4,516.8 693.4,516.8 695.4,516.7C697.4,516.5 699.4,515.9 701.3,515.7C703.3,515.5 705.3,515.7 707.3,515.2C709.3,514.8 712.9,513.1 713.3,513.1C713.8,513.1 709.4,515.3 710.0,515.2C710.6,515.1 714.7,513.4 717.2,512.5C719.7,511.6 722.2,509.8 725.0,509.7C727.7,509.7 730.8,511.8 733.9,512.1C737.0,512.5 740.7,512.4 743.5,511.9C746.3,511.4 748.5,509.6 750.7,509.2C752.9,508.8 754.7,509.0 756.7,509.5C758.7,509.9 760.7,511.2 762.6,511.9C764.6,512.5 766.6,512.8 768.6,513.3C770.6,513.9 772.4,515.3 774.6,515.2C776.8,515.1 780.0,513.3 781.8,512.8C783.6,512.4 783.6,512.3 785.4,512.5C787.2,512.6 790.6,513.5 792.6,513.7C794.5,513.8 795.3,513.0 797.3,513.3C799.3,513.6 801.9,515.1 804.5,515.5C807.1,515.8 810.1,515.1 812.9,515.5C815.7,515.8 818.7,517.6 821.3,517.6C823.9,517.6 825.9,516.0 828.4,515.5C831.0,514.9 834.0,514.5 836.8,514.5C839.6,514.5 842.4,514.7 845.2,515.2C848.0,515.8 851.0,517.3 853.6,517.9C856.2,518.5 858.4,518.9 860.8,518.8C863.1,518.8 865.1,517.9 867.9,517.6C870.7,517.4 874.9,517.2 877.5,517.3C880.1,517.3 881.3,517.7 883.5,518.1C885.7,518.5 888.3,519.7 890.7,519.7C893.1,519.6 895.3,518.3 897.8,517.9C900.4,517.4 903.6,516.9 906.2,516.9C908.8,516.9 911.0,517.5 913.4,518.1C915.8,518.7 918.4,520.0 920.6,520.5C922.8,520.9 925.6,520.8 926.6,520.8L926.6,520.7L262.0,520.7Z" fill="#EBEBEB" stroke="none"/>
<path d="M262.0,521.2C264.0,521.2 270.7,521.4 273.9,521.2C277.1,521.0 278.7,520.7 281.1,520.0C283.5,519.3 285.9,517.9 288.3,516.9C290.7,515.9 293.3,514.9 295.5,514.3C297.7,513.6 299.7,513.2 301.4,513.1C303.2,513.0 304.6,513.4 306.2,513.7C307.8,514.0 309.4,514.6 311.0,514.9C312.6,515.2 314.0,515.1 315.8,515.5C317.6,515.9 320.0,516.7 321.8,517.3C323.6,517.8 324.6,518.5 326.6,518.8C328.6,519.1 331.8,519.4 333.8,519.1C335.7,518.7 336.7,517.9 338.5,516.7C340.3,515.5 342.7,513.6 344.5,511.9C346.3,510.2 347.7,508.2 349.3,506.5C350.9,504.8 352.5,503.2 354.1,501.7C355.7,500.3 357.3,498.6 358.9,497.8C360.5,496.9 361.9,497.3 363.7,496.6C365.5,495.8 367.9,493.6 369.6,493.3C371.4,493.1 372.8,494.2 374.4,495.1C376.0,496.0 377.6,497.4 379.2,498.7C380.8,500.0 382.4,502.0 384.0,502.9C385.6,503.8 387.2,504.8 388.8,504.1C390.4,503.4 392.0,500.5 393.6,498.7C395.2,496.9 396.8,495.0 398.4,493.3C400.0,491.7 401.6,490.2 403.1,488.9C404.7,487.6 406.1,486.7 407.9,485.6C409.7,484.4 411.9,482.7 413.9,482.0C415.9,481.2 418.1,480.8 419.9,481.0C421.7,481.2 423.1,482.2 424.7,482.9C426.3,483.6 427.9,484.8 429.5,485.3C431.1,485.8 432.7,485.5 434.3,485.8C435.8,486.1 437.4,486.0 439.0,487.0C440.6,487.9 442.2,490.0 443.8,491.5C445.4,493.1 447.0,494.8 448.6,496.3C450.2,497.9 451.8,499.7 453.4,500.9C455.0,502.1 456.6,503.7 458.2,503.5C459.8,503.3 461.6,500.7 463.0,499.9C464.4,499.1 465.2,498.5 466.6,498.5C468.0,498.4 469.6,499.3 471.3,499.7C473.1,500.1 475.5,500.9 477.3,500.9C479.1,500.8 480.5,499.7 482.1,499.3C483.7,498.9 486.7,498.6 486.9,498.5C487.1,498.4 483.5,498.7 483.6,498.7C483.6,498.8 486.0,499.1 487.2,498.7C488.4,498.3 489.4,497.8 490.8,496.3C492.2,494.8 493.9,491.5 495.6,489.7C497.2,487.9 499.3,485.9 500.9,485.6C502.5,485.3 503.6,486.6 505.1,487.9C506.6,489.3 508.3,492.0 509.9,493.9C511.5,495.8 513.1,498.0 514.7,499.3C516.3,500.7 517.9,502.3 519.5,502.1C521.1,501.9 522.7,499.5 524.3,498.1C525.9,496.8 527.7,494.7 529.1,493.9C530.5,493.2 531.2,493.6 532.6,493.7C534.0,493.8 536.0,494.6 537.4,494.5C538.8,494.5 539.4,494.4 541.0,493.3C542.6,492.2 545.0,489.6 547.0,487.9C549.0,486.3 551.2,483.7 553.0,483.2C554.8,482.7 556.2,483.4 557.8,485.0C559.4,486.6 560.8,490.0 562.6,492.7C564.4,495.4 566.7,498.7 568.5,501.1C570.3,503.5 571.9,505.4 573.3,507.1C574.7,508.8 575.7,510.8 576.9,511.3C578.1,511.8 579.1,511.0 580.5,510.1C581.9,509.2 583.7,507.0 585.3,505.9C586.9,504.8 588.5,504.0 590.1,503.3C591.7,502.6 593.5,501.9 594.9,501.7C596.3,501.5 597.3,501.7 598.4,502.3C599.6,502.9 600.7,504.4 602.0,505.3C603.3,506.2 604.8,507.6 606.2,507.7C607.6,507.7 608.9,506.7 610.4,505.7C611.9,504.7 613.6,502.7 615.2,501.7C616.8,500.7 618.4,499.8 620.0,499.9C621.6,500.0 623.2,500.9 624.8,502.3C626.4,503.7 628.0,506.3 629.6,508.3C631.2,510.3 632.7,512.7 634.3,514.3C635.9,515.9 637.7,517.2 639.1,517.9C640.5,518.6 641.3,518.7 642.7,518.5C644.1,518.3 645.7,517.3 647.5,516.7C649.3,516.1 651.5,515.6 653.5,514.9C655.5,514.2 657.5,513.1 659.5,512.5C661.5,511.9 663.5,511.4 665.5,511.3C667.4,511.2 669.4,511.4 671.4,511.9C673.4,512.4 675.4,513.6 677.4,514.3C679.4,515.0 681.4,515.7 683.4,516.1C685.4,516.5 687.4,516.6 689.4,516.7C691.4,516.8 693.4,516.8 695.4,516.7C697.4,516.5 699.4,515.9 701.3,515.7C703.3,515.5 705.3,515.7 707.3,515.2C709.3,514.8 712.9,513.1 713.3,513.1C713.8,513.1 709.4,515.3 710.0,515.2C710.6,515.1 714.7,513.4 717.2,512.5C719.7,511.6 722.2,509.8 725.0,509.7C727.7,509.7 730.8,511.8 733.9,512.1C737.0,512.5 740.7,512.4 743.5,511.9C746.3,511.4 748.5,509.6 750.7,509.2C752.9,508.8 754.7,509.0 756.7,509.5C758.7,509.9 760.7,511.2 762.6,511.9C764.6,512.5 766.6,512.8 768.6,513.3C770.6,513.9 772.4,515.3 774.6,515.2C776.8,515.1 780.0,513.3 781.8,512.8C783.6,512.4 783.6,512.3 785.4,512.5C787.2,512.6 790.6,513.5 792.6,513.7C794.5,513.8 795.3,513.0 797.3,513.3C799.3,513.6 801.9,515.1 804.5,515.5C807.1,515.8 810.1,515.1 812.9,515.5C815.7,515.8 818.7,517.6 821.3,517.6C823.9,517.6 825.9,516.0 828.4,515.5C831.0,514.9 834.0,514.5 836.8,514.5C839.6,514.5 842.4,514.7 845.2,515.2C848.0,515.8 851.0,517.3 853.6,517.9C856.2,518.5 858.4,518.9 860.8,518.8C863.1,518.8 865.1,517.9 867.9,517.6C870.7,517.4 874.9,517.2 877.5,517.3C880.1,517.3 881.3,517.7 883.5,518.1C885.7,518.5 888.3,519.7 890.7,519.7C893.1,519.6 895.3,518.3 897.8,517.9C900.4,517.4 903.6,516.9 906.2,516.9C908.8,516.9 911.0,517.5 913.4,518.1C915.8,518.7 918.4,520.0 920.6,520.5C922.8,520.9 925.6,520.8 926.6,520.8" fill="none" stroke="#0000FF" stroke-width="3" stroke-linejoin="round"/>
<line x1="261.5" y1="520.7" x2="953.0" y2="520.7" stroke="#000" stroke-width="3.3"/>
<line x1="262.3" y1="518.7" x2="262.3" y2="523.7" stroke="#000" stroke-width="1.6"/>
<text x="262.3" y="535.6" font-size="17" text-anchor="middle">120</text>
<line x1="331.3" y1="518.7" x2="331.3" y2="523.7" stroke="#000" stroke-width="1.6"/>
<text x="331.3" y="535.6" font-size="17" text-anchor="middle">140</text>
<line x1="400.3" y1="518.7" x2="400.3" y2="523.7" stroke="#000" stroke-width="1.6"/>
<text x="400.3" y="535.6" font-size="17" text-anchor="middle">160</text>
<line x1="469.3" y1="518.7" x2="469.3" y2="523.7" stroke="#000" stroke-width="1.6"/>
<text x="469.3" y="535.6" font-size="17" text-anchor="middle">180</text>
<line x1="538.3" y1="518.7" x2="538.3" y2="523.7" stroke="#000" stroke-width="1.6"/>
<text x="538.3" y="535.6" font-size="17" text-anchor="middle">200</text>
<line x1="607.4" y1="518.7" x2="607.4" y2="523.7" stroke="#000" stroke-width="1.6"/>
<text x="607.4" y="535.6" font-size="17" text-anchor="middle">220</text>
<line x1="676.4" y1="518.7" x2="676.4" y2="523.7" stroke="#000" stroke-width="1.6"/>
<text x="676.4" y="535.6" font-size="17" text-anchor="middle">240</text>
<line x1="745.4" y1="518.7" x2="745.4" y2="523.7" stroke="#000" stroke-width="1.6"/>
<text x="745.4" y="535.6" font-size="17" text-anchor="middle">260</text>
<line x1="814.4" y1="518.7" x2="814.4" y2="523.7" stroke="#000" stroke-width="1.6"/>
<text x="814.4" y="535.6" font-size="17" text-anchor="middle">280</text>
<line x1="883.4" y1="518.7" x2="883.4" y2="523.7" stroke="#000" stroke-width="1.6"/>
<text x="883.4" y="535.6" font-size="17" text-anchor="middle">300</text>
<line x1="952.4" y1="518.7" x2="952.4" y2="523.7" stroke="#000" stroke-width="1.6"/>
<text x="952.4" y="535.6" font-size="17" text-anchor="middle">320</text>
<line x1="405.5" y1="573.8" x2="924.5" y2="573.8" stroke="#000" stroke-width="3.3"/>
<line x1="405.8" y1="572.8" x2="405.8" y2="577.8" stroke="#000" stroke-width="2.2"/>
<text x="405.8" y="589.0" font-size="17.3" text-anchor="middle">0.8</text>
<line x1="540.9" y1="572.8" x2="540.9" y2="577.8" stroke="#000" stroke-width="2.2"/>
<text x="540.9" y="589.0" font-size="17.3" text-anchor="middle">0.6</text>
<line x1="636.0" y1="572.8" x2="636.0" y2="577.8" stroke="#000" stroke-width="2.2"/>
<text x="636.0" y="589.0" font-size="17.3" text-anchor="middle">0.4</text>
<line x1="728.6" y1="572.8" x2="728.6" y2="577.8" stroke="#000" stroke-width="2.2"/>
<text x="728.6" y="589.0" font-size="17.3" text-anchor="middle">0.2</text>
<line x1="786.6" y1="572.8" x2="786.6" y2="577.8" stroke="#000" stroke-width="2.2"/>
<text x="786.6" y="589.0" font-size="17.3" text-anchor="middle">0.1</text>
<line x1="855.9" y1="572.8" x2="855.9" y2="577.8" stroke="#000" stroke-width="2.2"/>
<text x="855.9" y="589.0" font-size="17.3" text-anchor="middle">0.03</text>
<line x1="923.0" y1="572.8" x2="923.0" y2="577.8" stroke="#000" stroke-width="2.2"/>
<text x="923.0" y="589.0" font-size="17.3" text-anchor="middle">0.005</text>
<text x="403.0" y="579.0" font-size="18" text-anchor="end" font-style="italic">Pr( futime &gt; 5 )</text>
<line x1="238.0" y1="627.5" x2="914.0" y2="627.5" stroke="#000" stroke-width="3.3"/>
<line x1="239.0" y1="626.5" x2="239.0" y2="631.5" stroke="#000" stroke-width="2.2"/>
<text x="239.0" y="642.0" font-size="17.3" text-anchor="middle">0.96</text>
<line x1="355.8" y1="626.5" x2="355.8" y2="631.5" stroke="#000" stroke-width="2.2"/>
<text x="355.8" y="642.0" font-size="17.3" text-anchor="middle">0.92</text>
<line x1="424.6" y1="626.5" x2="424.6" y2="631.5" stroke="#000" stroke-width="2.2"/>
<text x="424.6" y="642.0" font-size="17.3" text-anchor="middle">0.88</text>
<line x1="515.9" y1="626.5" x2="515.9" y2="631.5" stroke="#000" stroke-width="2.2"/>
<text x="515.9" y="642.0" font-size="17.3" text-anchor="middle">0.8</text>
<line x1="651.4" y1="626.5" x2="651.4" y2="631.5" stroke="#000" stroke-width="2.2"/>
<text x="651.4" y="642.0" font-size="17.3" text-anchor="middle">0.6</text>
<line x1="747.0" y1="626.5" x2="747.0" y2="631.5" stroke="#000" stroke-width="2.2"/>
<text x="747.0" y="642.0" font-size="17.3" text-anchor="middle">0.4</text>
<line x1="849.3" y1="626.5" x2="849.3" y2="631.5" stroke="#000" stroke-width="2.2"/>
<text x="849.3" y="642.0" font-size="17.3" text-anchor="middle">0.18</text>
<line x1="912.5" y1="626.5" x2="912.5" y2="631.5" stroke="#000" stroke-width="2.2"/>
<text x="912.5" y="642.0" font-size="17.3" text-anchor="middle">0.08</text>
<text x="238.5" y="632.0" font-size="18" text-anchor="end" font-style="italic">Pr( futime &gt; 3 )</text>
<line x1="280.0" y1="680.4" x2="923.5" y2="680.4" stroke="#000" stroke-width="3.3"/>
<line x1="281.0" y1="679.4" x2="281.0" y2="684.4" stroke="#000" stroke-width="2.2"/>
<text x="281.0" y="695.0" font-size="17.3" text-anchor="middle">0.99</text>
<line x1="394.8" y1="679.4" x2="394.8" y2="684.4" stroke="#000" stroke-width="2.2"/>
<text x="394.8" y="695.0" font-size="17.3" text-anchor="middle">0.98</text>
<line x1="461.5" y1="679.4" x2="461.5" y2="684.4" stroke="#000" stroke-width="2.2"/>
<text x="461.5" y="695.0" font-size="17.3" text-anchor="middle">0.97</text>
<line x1="577.3" y1="679.4" x2="577.3" y2="684.4" stroke="#000" stroke-width="2.2"/>
<text x="577.3" y="695.0" font-size="17.3" text-anchor="middle">0.94</text>
<line x1="664.6" y1="679.4" x2="664.6" y2="684.4" stroke="#000" stroke-width="2.2"/>
<text x="664.6" y="695.0" font-size="17.3" text-anchor="middle">0.9</text>
<line x1="786.6" y1="679.4" x2="786.6" y2="684.4" stroke="#000" stroke-width="2.2"/>
<text x="786.6" y="695.0" font-size="17.3" text-anchor="middle">0.8</text>
<line x1="864.2" y1="679.4" x2="864.2" y2="684.4" stroke="#000" stroke-width="2.2"/>
<text x="864.2" y="695.0" font-size="17.3" text-anchor="middle">0.7</text>
<line x1="921.7" y1="679.4" x2="921.7" y2="684.4" stroke="#000" stroke-width="2.2"/>
<text x="921.7" y="695.0" font-size="17.3" text-anchor="middle">0.6</text>
<text x="278.0" y="685.6" font-size="18" text-anchor="end" font-style="italic">Pr( futime &gt; 1 )</text>
<line x1="485.0" y1="103.0" x2="485.0" y2="422.0" stroke="#FF0000" stroke-width="3" stroke-dasharray="0.01 10.92" stroke-linecap="round"/>
<line x1="519.9" y1="98.4" x2="519.9" y2="155.0" stroke="#FF0000" stroke-width="3" stroke-dasharray="0.01 10.92" stroke-linecap="round"/>
<line x1="514.0" y1="100.0" x2="514.0" y2="221.5" stroke="#FF0000" stroke-width="3" stroke-dasharray="0.01 10.92" stroke-linecap="round"/>
<line x1="524.4" y1="100.8" x2="524.4" y2="288.0" stroke="#FF0000" stroke-width="3" stroke-dasharray="0.01 10.92" stroke-linecap="round"/>
<line x1="702.0" y1="102.0" x2="702.0" y2="354.6" stroke="#FF0000" stroke-width="3" stroke-dasharray="0.01 10.92" stroke-linecap="round"/>
<circle cx="485" cy="95.2" r="5.6" fill="#FF0000"/>
<circle cx="514" cy="95.2" r="5.6" fill="#FF0000"/>
<circle cx="519.8" cy="95.2" r="5.6" fill="#FF0000"/>
<circle cx="524.5" cy="95.2" r="5.6" fill="#FF0000"/>
<circle cx="702" cy="95.2" r="5.6" fill="#FF0000"/>
<circle cx="519.8" cy="155" r="5.6" fill="#FF0000"/>
<circle cx="514" cy="221.5" r="5.6" fill="#FF0000"/>
<circle cx="524.5" cy="288" r="5.6" fill="#FF0000"/>
<circle cx="702" cy="354.6" r="5.6" fill="#FF0000"/>
<circle cx="485" cy="421.7" r="5.6" fill="#FF0000"/>
<line x1="566.8" y1="521.0" x2="566.8" y2="680.0" stroke="#FF0000" stroke-width="2.2"/>
<polygon points="566.8,513.5 575,521 566.8,528.5 558.6,521" fill="#FF0000"/>
<polygon points="558,566.4 575.6,566.4 566.8,580.6999999999999" fill="#FF0000"/>
<polygon points="558,619.7 575.6,619.7 566.8,634.0" fill="#FF0000"/>
<polygon points="558,672.4 575.6,672.4 566.8,686.6999999999999" fill="#FF0000"/>
<text x="567.0" y="518.0" font-size="16.5" text-anchor="middle" fill="#FF0000">208</text>
<text x="554.0" y="567.0" font-size="16.5" text-anchor="end" fill="#FF0000" font-style="italic">0.551</text>
<text x="554.0" y="620.3" font-size="16.5" text-anchor="end" fill="#FF0000" font-style="italic">0.738</text>
<text x="554.0" y="673.3" font-size="16.5" text-anchor="end" fill="#FF0000" font-style="italic">0.944</text>
<text x="1052.0" y="39.0" font-size="43">b</text>
<rect x="1231.2" y="243.2" width="56.8" height="231.1" fill="#FF4040" stroke="#000" stroke-width="3.9"/>
<text x="1259.6" y="237.2" font-size="21" text-anchor="middle">0.635</text>
<line x1="1259.6" y1="494.0" x2="1259.6" y2="500.0" stroke="#000" stroke-width="4.2"/>
<text x="0" y="0" font-size="22.8" text-anchor="end" transform="translate(1272.1,515.5) rotate(-48)">TMB</text>
<rect x="1310.9" y="238.8" width="56.8" height="235.5" fill="#FFBF40" stroke="#000" stroke-width="3.9"/>
<text x="1339.3" y="232.8" font-size="21" text-anchor="middle">0.647</text>
<line x1="1339.3" y1="494.0" x2="1339.3" y2="500.0" stroke="#000" stroke-width="4.2"/>
<text x="0" y="0" font-size="22.8" text-anchor="end" transform="translate(1351.8,515.5) rotate(-48)">StromalScore</text>
<rect x="1390.6" y="254.4" width="56.8" height="219.9" fill="#BFFF40" stroke="#000" stroke-width="3.9"/>
<text x="1419.0" y="248.4" font-size="21" text-anchor="middle">0.604</text>
<line x1="1419.0" y1="494.0" x2="1419.0" y2="500.0" stroke="#000" stroke-width="4.2"/>
<text x="0" y="0" font-size="22.8" text-anchor="end" transform="translate(1431.5,515.5) rotate(-48)">ImmuneScore</text>
<rect x="1470.4" y="230.4" width="56.8" height="243.9" fill="#40FF40" stroke="#000" stroke-width="3.9"/>
<text x="1498.8" y="224.4" font-size="21" text-anchor="middle">0.67</text>
<line x1="1498.8" y1="494.0" x2="1498.8" y2="500.0" stroke="#000" stroke-width="4.2"/>
<text x="0" y="0" font-size="22.8" text-anchor="end" transform="translate(1511.3,515.5) rotate(-48)">Gender</text>
<rect x="1550.1" y="211.1" width="56.8" height="263.2" fill="#40FFBF" stroke="#000" stroke-width="3.9"/>
<text x="1578.5" y="205.1" font-size="21" text-anchor="middle">0.723</text>
<line x1="1578.5" y1="494.0" x2="1578.5" y2="500.0" stroke="#000" stroke-width="4.2"/>
<text x="0" y="0" font-size="22.8" text-anchor="end" transform="translate(1591.0,515.5) rotate(-48)">Age</text>
<rect x="1629.8" y="247.2" width="56.8" height="227.1" fill="#40BFFF" stroke="#000" stroke-width="3.9"/>
<text x="1658.2" y="241.2" font-size="21" text-anchor="middle">0.624</text>
<line x1="1658.2" y1="494.0" x2="1658.2" y2="500.0" stroke="#000" stroke-width="4.2"/>
<text x="0" y="0" font-size="22.8" text-anchor="end" transform="translate(1670.7,515.5) rotate(-48)">Grade</text>
<rect x="1709.5" y="182.0" width="56.8" height="292.3" fill="#4040FF" stroke="#000" stroke-width="3.9"/>
<text x="1737.9" y="176.0" font-size="21" text-anchor="middle">0.803</text>
<line x1="1737.9" y1="494.0" x2="1737.9" y2="500.0" stroke="#000" stroke-width="4.2"/>
<text x="0" y="0" font-size="22.8" text-anchor="end" transform="translate(1750.4,515.5) rotate(-48)">AgingTMEscore</text>
<rect x="1789.2" y="136.9" width="56.8" height="337.4" fill="#BF40FF" stroke="#000" stroke-width="3.9"/>
<text x="1817.6" y="130.9" font-size="21" text-anchor="middle">0.927</text>
<line x1="1817.6" y1="494.0" x2="1817.6" y2="500.0" stroke="#000" stroke-width="4.2"/>
<text x="0" y="0" font-size="22.8" text-anchor="end" transform="translate(1830.1,515.5) rotate(-48)">AgingTMEscoreGroup</text>
<rect x="1869.0" y="164.5" width="56.8" height="309.8" fill="#FF40BF" stroke="#000" stroke-width="3.9"/>
<text x="1897.4" y="158.5" font-size="21" text-anchor="middle">0.851</text>
<line x1="1897.4" y1="494.0" x2="1897.4" y2="500.0" stroke="#000" stroke-width="4.2"/>
<text x="0" y="0" font-size="22.8" text-anchor="end" transform="translate(1909.9,515.5) rotate(-48)">Nomogram</text>
<line x1="1211.3" y1="54.0" x2="1211.3" y2="496.2" stroke="#000" stroke-width="3.9"/>
<line x1="1209.4" y1="494.3" x2="1945.5" y2="494.3" stroke="#000" stroke-width="3.9"/>
<line x1="1205.5" y1="474.3" x2="1211.0" y2="474.3" stroke="#000" stroke-width="3.9"/>
<text x="1201.0" y="482.1" font-size="22.3" text-anchor="end">0.0</text>
<line x1="1205.5" y1="365.1" x2="1211.0" y2="365.1" stroke="#000" stroke-width="3.9"/>
<text x="1201.0" y="372.9" font-size="22.3" text-anchor="end">0.3</text>
<line x1="1205.5" y1="255.9" x2="1211.0" y2="255.9" stroke="#000" stroke-width="3.9"/>
<text x="1201.0" y="263.7" font-size="22.3" text-anchor="end">0.6</text>
<line x1="1205.5" y1="146.7" x2="1211.0" y2="146.7" stroke="#000" stroke-width="3.9"/>
<text x="1201.0" y="154.5" font-size="22.3" text-anchor="end">0.9</text>
<text x="0" y="0" font-size="22.6" text-anchor="middle" transform="translate(1158.5,273.5) rotate(-90)">C−index</text>
<text x="13.0" y="797.5" font-size="43">c</text>
<path d="M78.0,839.8v2.8 M79.3,839.8v3.2 M80.6,839.8v2.9 M81.9,839.8v3.2 M83.2,839.8v3.3 M84.5,839.8v2.6 M85.8,839.8v2.5 M87.1,839.8v3.5 M88.4,839.8v2.8 M89.7,839.8v2.8 M91.0,839.8v3.7 M92.3,839.8v3.1 M93.6,839.8v3.5 M94.9,839.8v3.1 M96.2,839.8v3.3 M97.5,839.8v2.7 M98.8,839.8v3.3 M100.1,839.8v3.5 M101.4,839.8v3.1 M102.7,839.8v3.4 M104.0,839.8v3.3 M105.3,839.8v2.6 M106.6,839.8v3.4 M107.9,839.8v3.2 M109.2,839.8v2.9 M110.5,839.8v2.5 M111.8,839.8v3.5 M113.1,839.8v3.1 M114.4,839.8v3.4 M115.7,839.8v3.6 M117.0,839.8v3.4 M118.3,839.8v3.6 M119.6,839.8v3.0 M120.9,839.8v3.5 M122.2,839.8v3.0 M123.5,839.8v3.6 M124.8,839.8v3.6 M126.1,839.8v2.6 M127.4,839.8v2.7 M128.7,839.8v2.8 M130.0,839.8v3.7 M131.3,839.8v3.0 M132.6,839.8v3.3 M133.9,839.8v2.9 M135.2,839.8v3.1 M136.5,839.8v3.0 M137.8,839.8v2.9 M139.1,839.8v3.2 M140.4,839.8v3.2 M141.7,839.8v3.6 M143.0,839.8v3.3 M144.3,839.8v3.6 M145.6,839.8v3.5 M146.9,839.8v3.7 M148.2,839.8v3.3 M149.5,839.8v2.7 M150.8,839.8v3.5 M152.1,839.8v3.7 M153.4,839.8v3.6 M154.7,839.8v3.2 M156.0,839.8v3.4 M157.3,839.8v2.8 M158.6,839.8v3.5 M159.9,839.8v3.2 M161.2,839.8v2.8 M162.5,839.8v2.6 M163.8,839.8v3.5 M165.1,839.8v3.7 M166.4,839.8v2.6 M167.7,839.8v3.5 M169.0,839.8v3.0 M170.3,839.8v2.7 M171.6,839.8v2.9 M172.9,839.8v3.4 M174.2,839.8v3.5 M175.5,839.8v2.6 M176.8,839.8v3.2 M178.1,839.8v2.6 M179.4,839.8v3.4 M180.7,839.8v2.9 M182.0,839.8v3.6 M183.3,839.8v3.7 M184.6,839.8v3.1 M185.9,839.8v3.7 M187.2,839.8v2.9 M188.5,839.8v2.6 M189.8,839.8v3.2 M191.1,839.8v2.5 M192.4,839.8v2.7 M193.7,839.8v3.0 M195.0,839.8v3.2 M196.3,839.8v2.7 M197.6,839.8v2.6 M198.9,839.8v3.5 M200.2,839.8v2.9 M201.5,839.8v3.7 M202.8,839.8v3.6 M204.1,839.8v3.0 M205.4,839.8v3.1 M206.7,839.8v3.1 M208.0,839.8v3.3 M209.3,839.8v3.2 M210.6,839.8v3.2 M211.9,839.8v3.2 M213.2,839.8v3.6 M214.5,839.8v3.1 M215.8,839.8v3.0 M217.1,839.8v3.4 M218.4,839.8v2.8 M219.7,839.8v2.9 M221.0,839.8v3.7 M222.3,839.8v3.1 M223.6,839.8v3.2 M224.9,839.8v2.5 M226.2,839.8v3.0 M227.5,839.8v3.2 M228.8,839.8v2.5 M230.1,839.8v3.2 M231.4,839.8v3.3 M232.7,839.8v2.6 M234.0,839.8v3.3 M235.3,839.8v3.1 M236.6,839.8v3.3 M237.9,839.8v2.9 M239.2,839.8v3.3 M240.5,839.8v3.4 M241.8,839.8v2.5 M243.1,839.8v2.6 M244.4,839.8v3.3 M245.7,839.8v3.7 M247.0,839.8v2.8 M248.3,839.8v3.0 M249.6,839.8v3.2 M250.9,839.8v2.9 M252.2,839.8v2.9 M253.5,839.8v2.9 M254.8,839.8v2.9 M256.1,839.8v3.2 M257.4,839.8v2.9 M258.7,839.8v3.0 M260.0,839.8v3.4 M261.3,839.8v2.5 M262.6,839.8v3.2 M263.9,839.8v3.4 M265.2,839.8v2.9 M266.5,839.8v2.8 M267.8,839.8v3.5 M269.1,839.8v2.8 M270.4,839.8v2.7 M271.7,839.8v3.0 M273.0,839.8v3.3 M274.3,839.8v2.6 M275.6,839.8v2.9 M276.9,839.8v2.9 M278.2,839.8v3.5 M279.5,839.8v3.0 M280.8,839.8v3.5 M282.1,839.8v2.7 M283.4,839.8v2.9 M284.7,839.8v3.3 M286.0,839.8v3.6 M287.3,839.8v3.0 M288.6,839.8v2.8 M289.9,839.8v2.6 M291.2,839.8v6.2 M292.5,839.8v4.1 M293.8,839.8v7.8 M295.1,839.8v8.0 M296.4,839.8v4.1 M297.7,839.8v4.7 M299.0,839.8v7.8 M300.3,839.8v6.9 M301.6,839.8v7.8 M302.9,839.8v5.1 M304.2,839.8v3.8 M305.5,839.8v4.8 M306.8,839.8v7.8 M308.1,839.8v4.6 M309.4,839.8v5.1 M310.7,839.8v5.5 M312.0,839.8v5.5 M313.3,839.8v5.5 M314.6,839.8v8.5 M315.9,839.8v3.9 M317.2,839.8v3.0 M318.5,839.8v8.7 M319.8,839.8v8.3 M321.1,839.8v8.9 M322.4,839.8v5.6 M323.7,839.8v8.7 M325.0,839.8v8.6 M326.3,839.8v12.9 M327.6,839.8v15.0 M328.9,839.8v15.3 M330.2,839.8v14.7 M331.5,839.8v14.1 M332.8,839.8v13.2 M334.1,839.8v13.4 M335.4,839.8v12.9 M336.7,839.8v3.3 M338.0,839.8v5.9 M339.3,839.8v4.4 M340.6,839.8v7.1 M341.9,839.8v3.2 M343.2,839.8v7.5 M344.5,839.8v6.5 M345.8,839.8v7.6 M347.1,839.8v7.5 M348.4,839.8v7.5 M349.7,839.8v5.9 M351.0,839.8v3.1 M352.3,839.8v6.7 M353.6,839.8v3.9 M354.9,839.8v4.5 M356.2,839.8v6.3 M357.5,839.8v5.6 M358.8,839.8v5.1 M360.1,839.8v7.7 M361.4,839.8v6.1 M362.7,839.8v4.7 M364.0,839.8v4.3 M365.3,839.8v7.3 M366.6,839.8v10.9 M367.9,839.8v12.1 M369.2,839.8v10.4 M370.5,839.8v9.8 M371.8,839.8v11.1 M373.1,839.8v12.3 M374.4,839.8v9.7 M375.7,839.8v12.2 M377.0,839.8v12.7 M378.3,839.8v4.1 M379.6,839.8v4.1 M380.9,839.8v2.5 M382.2,839.8v3.8 M383.5,839.8v4.2 M384.8,839.8v2.6 M386.1,839.8v3.0 M387.4,839.8v3.0 M388.7,839.8v3.6 M390.0,839.8v3.3 M391.3,839.8v3.4 M392.6,839.8v4.1 M393.9,839.8v2.5 M395.2,839.8v2.6 M396.5,839.8v2.8 M397.8,839.8v2.7 M399.1,839.8v2.6 M400.4,839.8v4.4 M401.7,839.8v4.2 M403.0,839.8v2.7 M404.3,839.8v3.5 M405.6,839.8v3.1 M406.9,839.8v3.1 M408.2,839.8v3.2 M409.5,839.8v3.8 M410.8,839.8v9.3 M412.1,839.8v8.4 M413.4,839.8v7.8 M414.7,839.8v8.3 M416.0,839.8v7.5 M417.3,839.8v9.2 M418.6,839.8v9.9 M419.9,839.8v8.5" stroke="#000" stroke-width="1.3" fill="none"/>
<line x1="244.8" y1="1046.5" x2="314.3" y2="947.1" stroke="#FF0000" stroke-width="3"/>
<line x1="320.7" y1="933.8" x2="328.9" y2="906.4" stroke="#FF0000" stroke-width="3"/>
<line x1="306.9" y1="995.5" x2="362.3" y2="917.6" stroke="#0000FF" stroke-width="3"/>
<line x1="367.8" y1="904.1" x2="372.9" y2="872.4" stroke="#0000FF" stroke-width="3"/>
<line x1="399.8" y1="885.5" x2="410.8" y2="876.6" stroke="#00FF00" stroke-width="3"/>
<line x1="240.5" y1="1007.0" x2="240.5" y2="1083.5" stroke="#000" stroke-width="3.2"/>
<line x1="236.3" y1="1007.0" x2="244.7" y2="1007.0" stroke="#000" stroke-width="3.6" stroke-linecap="round"/>
<line x1="236.3" y1="1083.5" x2="244.7" y2="1083.5" stroke="#000" stroke-width="3.6" stroke-linecap="round"/>
<line x1="302.6" y1="957.7" x2="302.6" y2="1031.7" stroke="#000" stroke-width="3.2"/>
<line x1="298.4" y1="957.7" x2="306.8" y2="957.7" stroke="#000" stroke-width="3.6" stroke-linecap="round"/>
<line x1="298.4" y1="1031.7" x2="306.8" y2="1031.7" stroke="#000" stroke-width="3.6" stroke-linecap="round"/>
<line x1="318.6" y1="901.5" x2="318.6" y2="972.0" stroke="#000" stroke-width="3.2"/>
<line x1="314.4" y1="901.5" x2="322.8" y2="901.5" stroke="#000" stroke-width="3.6" stroke-linecap="round"/>
<line x1="314.4" y1="972.0" x2="322.8" y2="972.0" stroke="#000" stroke-width="3.6" stroke-linecap="round"/>
<line x1="331.0" y1="869.0" x2="331.0" y2="921.0" stroke="#000" stroke-width="3.2"/>
<line x1="326.8" y1="869.0" x2="335.2" y2="869.0" stroke="#000" stroke-width="3.6" stroke-linecap="round"/>
<line x1="326.8" y1="921.0" x2="335.2" y2="921.0" stroke="#000" stroke-width="3.6" stroke-linecap="round"/>
<line x1="366.6" y1="878.6" x2="366.6" y2="936.2" stroke="#000" stroke-width="3.2"/>
<line x1="362.4" y1="878.6" x2="370.8" y2="878.6" stroke="#000" stroke-width="3.6" stroke-linecap="round"/>
<line x1="362.4" y1="936.2" x2="370.8" y2="936.2" stroke="#000" stroke-width="3.6" stroke-linecap="round"/>
<line x1="374.1" y1="843.0" x2="374.1" y2="875.9" stroke="#000" stroke-width="3.2"/>
<line x1="369.9" y1="843.0" x2="378.3" y2="843.0" stroke="#000" stroke-width="3.6" stroke-linecap="round"/>
<line x1="369.9" y1="875.9" x2="378.3" y2="875.9" stroke="#000" stroke-width="3.6" stroke-linecap="round"/>
<line x1="394.0" y1="868.4" x2="394.0" y2="909.5" stroke="#000" stroke-width="3.2"/>
<line x1="389.8" y1="868.4" x2="398.2" y2="868.4" stroke="#000" stroke-width="3.6" stroke-linecap="round"/>
<line x1="389.8" y1="909.5" x2="398.2" y2="909.5" stroke="#000" stroke-width="3.6" stroke-linecap="round"/>
<line x1="416.6" y1="842.0" x2="416.6" y2="880.7" stroke="#000" stroke-width="3.2"/>
<line x1="412.4" y1="842.0" x2="420.8" y2="842.0" stroke="#000" stroke-width="3.6" stroke-linecap="round"/>
<line x1="412.4" y1="880.7" x2="420.8" y2="880.7" stroke="#000" stroke-width="3.6" stroke-linecap="round"/>
<line x1="418.0" y1="841.0" x2="418.0" y2="860.0" stroke="#000" stroke-width="3.2"/>
<line x1="413.8" y1="841.0" x2="422.2" y2="841.0" stroke="#000" stroke-width="3.6" stroke-linecap="round"/>
<line x1="413.8" y1="860.0" x2="422.2" y2="860.0" stroke="#000" stroke-width="3.6" stroke-linecap="round"/>
<rect x="76.4" y="839.8" width="368.6" height="308.8" fill="none" stroke="#000" stroke-width="3.2"/>
<line x1="76.4" y1="1148.4" x2="445.0" y2="839.8" stroke="#E3E3E3" stroke-width="3.2" stroke-linecap="round"/>
<path d="M235.5,1048.1L245.5,1057.1M235.5,1057.1L245.5,1048.1" stroke="#0000FF" stroke-width="3.2"/>
<path d="M313.6,936.5L323.6,945.5M313.6,945.5L323.6,936.5" stroke="#0000FF" stroke-width="3.2"/>
<path d="M326,894.7L336,903.7M326,903.7L336,894.7" stroke="#0000FF" stroke-width="3.2"/>
<path d="M297.6,997.1L307.6,1006.1M297.6,1006.1L307.6,997.1" stroke="#0000FF" stroke-width="3.2"/>
<path d="M361.6,907.0L371.6,916.0M361.6,916.0L371.6,907.0" stroke="#0000FF" stroke-width="3.2"/>
<path d="M369.1,860.5L379.1,869.5M369.1,869.5L379.1,860.5" stroke="#0000FF" stroke-width="3.2"/>
<path d="M389,885.8L399,894.8M389,894.8L399,885.8" stroke="#0000FF" stroke-width="3.2"/>
<path d="M411.6,867.3L421.6,876.3M411.6,876.3L421.6,867.3" stroke="#0000FF" stroke-width="3.2"/>
<path d="M413,848.1L423,857.1M413,857.1L423,848.1" stroke="#0000FF" stroke-width="3.2"/>
<line x1="90.2" y1="1148.4" x2="90.2" y2="1159.5" stroke="#000" stroke-width="3.2"/>
<text x="90.2" y="1184.4" font-size="16" text-anchor="middle">0.0</text>
<line x1="65.3" y1="1136.9" x2="76.4" y2="1136.9" stroke="#000" stroke-width="3.2"/>
<text x="0" y="0" font-size="16" text-anchor="middle" transform="translate(53,1136.9) rotate(-90)">0.0</text>
<line x1="158.2" y1="1148.4" x2="158.2" y2="1159.5" stroke="#000" stroke-width="3.2"/>
<text x="158.2" y="1184.4" font-size="16" text-anchor="middle">0.2</text>
<line x1="65.3" y1="1079.9" x2="76.4" y2="1079.9" stroke="#000" stroke-width="3.2"/>
<text x="0" y="0" font-size="16" text-anchor="middle" transform="translate(53,1079.9) rotate(-90)">0.2</text>
<line x1="226.3" y1="1148.4" x2="226.3" y2="1159.5" stroke="#000" stroke-width="3.2"/>
<text x="226.3" y="1184.4" font-size="16" text-anchor="middle">0.4</text>
<line x1="65.3" y1="1022.8" x2="76.4" y2="1022.8" stroke="#000" stroke-width="3.2"/>
<text x="0" y="0" font-size="16" text-anchor="middle" transform="translate(53,1022.8) rotate(-90)">0.4</text>
<line x1="294.3" y1="1148.4" x2="294.3" y2="1159.5" stroke="#000" stroke-width="3.2"/>
<text x="294.3" y="1184.4" font-size="16" text-anchor="middle">0.6</text>
<line x1="65.3" y1="965.8" x2="76.4" y2="965.8" stroke="#000" stroke-width="3.2"/>
<text x="0" y="0" font-size="16" text-anchor="middle" transform="translate(53,965.8) rotate(-90)">0.6</text>
<line x1="362.4" y1="1148.4" x2="362.4" y2="1159.5" stroke="#000" stroke-width="3.2"/>
<text x="362.4" y="1184.4" font-size="16" text-anchor="middle">0.8</text>
<line x1="65.3" y1="908.7" x2="76.4" y2="908.7" stroke="#000" stroke-width="3.2"/>
<text x="0" y="0" font-size="16" text-anchor="middle" transform="translate(53,908.7) rotate(-90)">0.8</text>
<line x1="430.4" y1="1148.4" x2="430.4" y2="1159.5" stroke="#000" stroke-width="3.2"/>
<text x="430.4" y="1184.4" font-size="16" text-anchor="middle">1.0</text>
<line x1="65.3" y1="851.7" x2="76.4" y2="851.7" stroke="#000" stroke-width="3.2"/>
<text x="0" y="0" font-size="16" text-anchor="middle" transform="translate(53,851.7) rotate(-90)">1.0</text>
<text x="260.3" y="1223.6" font-size="16.4" text-anchor="middle">Nomogram−predicted OS (%)</text>
<text x="0" y="0" font-size="16" text-anchor="middle" transform="translate(15,993) rotate(-90)">Observed OS (%)</text>
<line x1="343.2" y1="1090.3" x2="372.0" y2="1090.3" stroke="#00FF00" stroke-width="4.6" stroke-linecap="round"/>
<text x="387.7" y="1095.9" font-size="16">1−year</text>
<line x1="343.2" y1="1109.7" x2="372.0" y2="1109.7" stroke="#0000FF" stroke-width="4.6" stroke-linecap="round"/>
<text x="387.7" y="1115.3" font-size="16">3−year</text>
<line x1="343.2" y1="1129.1" x2="372.0" y2="1129.1" stroke="#FF0000" stroke-width="4.6" stroke-linecap="round"/>
<text x="387.7" y="1134.7" font-size="16">5−year</text>
<text x="495.5" y="797.5" font-size="43">d</text>
<line x1="556.0" y1="1155.5" x2="929.4" y2="830.3" stroke="#000" stroke-width="3.1"/>
<polyline points="569.9,1142.8 573.4,1136.8 573.4,1125.0 580.3,1125.0 580.3,1107.3 588.9,1107.3 588.9,1089.8 594.1,1089.8 594.1,1072.1 610.3,1072.1 610.3,1054.3 619.0,1054.3 619.0,1036.5 629.7,1036.5 629.7,1018.8 632.1,1018.8 632.1,1001.0 639.6,1001.0 639.6,965.8 656.7,965.8 656.7,948.1 657.7,948.1 657.7,930.3 660.5,930.3 660.5,912.5 683.3,912.5 683.3,877.3 786.3,877.3 786.3,859.6 835.7,859.6 835.7,841.8 915.6,841.8" fill="none" stroke="#E61919" stroke-width="5.1" stroke-linejoin="round" stroke-linecap="round"/>
<polyline points="569.9,1142.8 572.2,1142.8 572.2,1125.0 578.4,1125.0 578.4,1107.3 594.4,1107.3 594.4,1072.1 600.7,1072.1 600.7,1054.3 609.0,1054.3 609.0,1036.5 627.3,1036.5 627.3,1018.8 629.7,1018.8 629.7,1001.0 635.6,1001.0 635.6,983.6 646.3,983.6 646.3,965.8 673.6,965.8 673.6,948.1 676.4,948.1 676.4,930.3 679.8,930.3 679.8,912.5 686.7,912.5 686.7,894.8 689.5,894.8 689.5,877.3 695.0,877.3 695.0,859.6 761.4,859.6 761.4,841.8 915.6,841.8" fill="none" stroke="#E6C919" stroke-width="5.1" stroke-linejoin="round" stroke-linecap="round"/>
<polyline points="569.9,1142.8 760.4,999.2 915.6,841.8" fill="none" stroke="#54E619" stroke-width="5.1" stroke-linejoin="round" stroke-linecap="round"/>
<polyline points="569.9,1142.8 588.2,1142.8 588.2,1128.4 590.6,1088.6 605.9,1053.4 618.3,1018.2 685.7,1018.2 697.8,999.8 705.4,984.5 723.0,983.3 728.9,947.8 738.9,930.0 770.4,930.0 786.3,912.2 809.8,894.5 855.4,894.5 861.3,886.3 879.3,876.7 894.9,876.7 901.1,860.8 912.8,860.8 914.9,844.8 915.6,841.8" fill="none" stroke="#19E68E" stroke-width="5.1" stroke-linejoin="round" stroke-linecap="round"/>
<polyline points="569.9,1142.8 708.2,911.3 915.6,841.8" fill="none" stroke="#198EE6" stroke-width="5.1" stroke-linejoin="round" stroke-linecap="round"/>
<polyline points="569.9,1142.8 669.5,1001.9 915.6,841.8" fill="none" stroke="#5419E6" stroke-width="5.1" stroke-linejoin="round" stroke-linecap="round"/>
<line x1="569.9" y1="1142.8" x2="915.6" y2="841.8" stroke="#000" stroke-width="3.6" stroke-dasharray="5.5 16.5" stroke-linecap="round"/>
<rect x="556" y="830.3" width="373.4" height="325.2" fill="none" stroke="#000" stroke-width="2.8"/>
<line x1="569.9" y1="1155.5" x2="569.9" y2="1164.5" stroke="#000" stroke-width="2.2"/>
<text x="569.9" y="1183.0" font-size="12.3" text-anchor="middle">0.0</text>
<line x1="547.0" y1="1142.8" x2="556.0" y2="1142.8" stroke="#000" stroke-width="2.2"/>
<text x="0" y="0" font-size="12.3" text-anchor="middle" transform="translate(537.5,1142.8) rotate(-90)">0.0</text>
<line x1="639.0" y1="1155.5" x2="639.0" y2="1164.5" stroke="#000" stroke-width="2.2"/>
<text x="639.0" y="1183.0" font-size="12.3" text-anchor="middle">0.2</text>
<line x1="547.0" y1="1082.6" x2="556.0" y2="1082.6" stroke="#000" stroke-width="2.2"/>
<text x="0" y="0" font-size="12.3" text-anchor="middle" transform="translate(537.5,1082.6) rotate(-90)">0.2</text>
<line x1="708.2" y1="1155.5" x2="708.2" y2="1164.5" stroke="#000" stroke-width="2.2"/>
<text x="708.2" y="1183.0" font-size="12.3" text-anchor="middle">0.4</text>
<line x1="547.0" y1="1022.4" x2="556.0" y2="1022.4" stroke="#000" stroke-width="2.2"/>
<text x="0" y="0" font-size="12.3" text-anchor="middle" transform="translate(537.5,1022.4) rotate(-90)">0.4</text>
<line x1="777.3" y1="1155.5" x2="777.3" y2="1164.5" stroke="#000" stroke-width="2.2"/>
<text x="777.3" y="1183.0" font-size="12.3" text-anchor="middle">0.6</text>
<line x1="547.0" y1="962.2" x2="556.0" y2="962.2" stroke="#000" stroke-width="2.2"/>
<text x="0" y="0" font-size="12.3" text-anchor="middle" transform="translate(537.5,962.2) rotate(-90)">0.6</text>
<line x1="846.5" y1="1155.5" x2="846.5" y2="1164.5" stroke="#000" stroke-width="2.2"/>
<text x="846.5" y="1183.0" font-size="12.3" text-anchor="middle">0.8</text>
<line x1="547.0" y1="902.0" x2="556.0" y2="902.0" stroke="#000" stroke-width="2.2"/>
<text x="0" y="0" font-size="12.3" text-anchor="middle" transform="translate(537.5,902.0) rotate(-90)">0.8</text>
<line x1="915.6" y1="1155.5" x2="915.6" y2="1164.5" stroke="#000" stroke-width="2.2"/>
<text x="915.6" y="1183.0" font-size="12.3" text-anchor="middle">1.0</text>
<line x1="547.0" y1="841.8" x2="556.0" y2="841.8" stroke="#000" stroke-width="2.2"/>
<text x="0" y="0" font-size="12.3" text-anchor="middle" transform="translate(537.5,841.8) rotate(-90)">1.0</text>
<text x="742.7" y="1214.8" font-size="13" text-anchor="middle">1−Specificity</text>
<text x="0" y="0" font-size="13" text-anchor="middle" transform="translate(507.0,992) rotate(-90)">Sensitivity</text>
<text x="0" y="0" font-size="13" text-anchor="middle" transform="translate(474.5,998.4) rotate(-90)">Sensitivity</text>
<line x1="721.3" y1="1061.3" x2="743.8" y2="1061.3" stroke="#E61919" stroke-width="5.5" stroke-linecap="round"/>
<text x="755.8" y="1066.0" font-size="13">AgingTMEscore, AUC=0.760</text>
<line x1="721.3" y1="1077.0" x2="743.8" y2="1077.0" stroke="#E6C919" stroke-width="5.5" stroke-linecap="round"/>
<text x="755.8" y="1081.7" font-size="13">Nomogram, AUC=0.786</text>
<line x1="721.3" y1="1092.6" x2="743.8" y2="1092.6" stroke="#54E619" stroke-width="5.5" stroke-linecap="round"/>
<text x="755.8" y="1097.3" font-size="13">Gender, AUC=0.463</text>
<line x1="721.3" y1="1108.3" x2="743.8" y2="1108.3" stroke="#19E68E" stroke-width="5.5" stroke-linecap="round"/>
<text x="755.8" y="1113.0" font-size="13">Age, AUC=0.603</text>
<line x1="721.3" y1="1124.0" x2="743.8" y2="1124.0" stroke="#198EE6" stroke-width="5.5" stroke-linecap="round"/>
<text x="755.8" y="1128.7" font-size="13">Grade, AUC=0.683</text>
<line x1="721.3" y1="1139.6" x2="743.8" y2="1139.6" stroke="#5419E6" stroke-width="5.5" stroke-linecap="round"/>
<text x="755.8" y="1144.3" font-size="13">IDHmutation, AUC=0.589</text>
<text x="941.8" y="797.5" font-size="43">e</text>
<line x1="1025.5" y1="1155.5" x2="1398.9" y2="830.3" stroke="#000" stroke-width="3.1"/>
<polyline points="1039.4,1142.8 1049.1,1130.8 1049.1,1074.8 1055.3,1074.8 1055.3,1061.5 1062.9,1058.5 1062.9,996.8 1065.3,996.8 1065.3,990.2 1069.7,990.2 1069.7,977.9 1075.2,977.9 1075.2,962.8 1086.2,962.8 1086.2,955.3 1090.3,949.3 1090.3,916.3 1110.8,916.3 1110.8,903.3 1118.4,903.3 1118.4,893.7 1151.9,893.7 1151.9,886.2 1165.6,886.2 1165.6,878.6 1211.5,878.6 1211.5,874.0 1231.4,874.0 1231.4,868.8 1278.1,868.8 1278.1,863.5 1289.1,863.5 1289.1,858.3 1330.4,858.3 1330.4,849.9 1381.6,849.9 1383.4,841.8 1385.1,841.8" fill="none" stroke="#E61919" stroke-width="5.1" stroke-linejoin="round" stroke-linecap="round"/>
<polyline points="1039.4,1142.8 1039.4,1127.8 1042.2,1127.8 1042.2,1064.1 1049.8,1064.1 1049.8,1058.0 1052.9,1058.0 1053.2,1024.3 1056.7,1024.3 1056.7,1011.3 1060.5,1011.3 1060.5,976.6 1064.2,972.4 1066.3,972.4 1066.3,958.1 1069.7,953.3 1075.2,949.3 1083.4,947.8 1084.8,943.7 1102.6,943.7 1104.7,939.6 1105.3,925.9 1110.8,924.6 1112.2,921.1 1117.0,921.1 1117.7,906.7 1120.4,901.2 1128.6,900.5 1128.6,894.4 1158.8,894.4 1159.5,890.3 1165.6,888.9 1166.3,881.4 1184.8,881.4 1184.8,877.3 1206.3,877.3 1206.3,871.9 1211.5,871.9 1211.5,865.6 1213.6,865.6 1213.6,858.8 1252.4,858.8 1252.4,852.0 1263.9,852.0 1263.9,846.8 1366.6,846.8 1385.1,841.8" fill="none" stroke="#E6C919" stroke-width="5.1" stroke-linejoin="round" stroke-linecap="round"/>
<polyline points="1040.2,1142.8 1385.9,841.8" fill="none" stroke="#54E619" stroke-width="6.4" stroke-linejoin="round" stroke-linecap="round"/>
<polyline points="1039.4,1142.8 1043.8,1142.8 1046.1,1102.5 1049.9,1098.0 1056.8,1091.6 1060.6,1079.6 1061.4,1064.5 1062.9,1051.9 1066.7,1042.7 1074.4,1033.5 1083.6,1025.1 1092.8,1025.1 1097.4,1021.2 1105.1,1018.2 1118.1,992.3 1126.0,987.5 1141.7,983.3 1157.6,977.6 1169.4,977.6 1177.3,959.8 1189.4,945.9 1205.0,932.7 1220.9,932.7 1236.8,924.0 1244.7,920.1 1256.5,918.3 1276.2,918.3 1284.2,910.1 1296.3,900.2 1316.0,899.6 1323.9,886.3 1335.7,875.8 1347.4,866.8 1363.3,856.8 1379.2,846.9 1385.1,841.8" fill="none" stroke="#19E68E" stroke-width="5.1" stroke-linejoin="round" stroke-linecap="round"/>
<polyline points="1039.4,1142.8 1153.8,933.3 1385.1,841.8" fill="none" stroke="#198EE6" stroke-width="5.1" stroke-linejoin="round" stroke-linecap="round"/>
<polyline points="1039.4,1142.8 1124.1,997.1 1385.1,841.8" fill="none" stroke="#5419E6" stroke-width="5.1" stroke-linejoin="round" stroke-linecap="round"/>
<line x1="1039.4" y1="1142.8" x2="1385.1" y2="841.8" stroke="#000" stroke-width="3.6" stroke-dasharray="5.5 16.5" stroke-linecap="round"/>
<rect x="1025.5" y="830.3" width="373.4" height="325.2" fill="none" stroke="#000" stroke-width="2.8"/>
<line x1="1039.4" y1="1155.5" x2="1039.4" y2="1164.5" stroke="#000" stroke-width="2.2"/>
<text x="1039.4" y="1183.0" font-size="12.3" text-anchor="middle">0.0</text>
<line x1="1016.5" y1="1142.8" x2="1025.5" y2="1142.8" stroke="#000" stroke-width="2.2"/>
<text x="0" y="0" font-size="12.3" text-anchor="middle" transform="translate(1007.0,1142.8) rotate(-90)">0.0</text>
<line x1="1108.5" y1="1155.5" x2="1108.5" y2="1164.5" stroke="#000" stroke-width="2.2"/>
<text x="1108.5" y="1183.0" font-size="12.3" text-anchor="middle">0.2</text>
<line x1="1016.5" y1="1082.6" x2="1025.5" y2="1082.6" stroke="#000" stroke-width="2.2"/>
<text x="0" y="0" font-size="12.3" text-anchor="middle" transform="translate(1007.0,1082.6) rotate(-90)">0.2</text>
<line x1="1177.7" y1="1155.5" x2="1177.7" y2="1164.5" stroke="#000" stroke-width="2.2"/>
<text x="1177.7" y="1183.0" font-size="12.3" text-anchor="middle">0.4</text>
<line x1="1016.5" y1="1022.4" x2="1025.5" y2="1022.4" stroke="#000" stroke-width="2.2"/>
<text x="0" y="0" font-size="12.3" text-anchor="middle" transform="translate(1007.0,1022.4) rotate(-90)">0.4</text>
<line x1="1246.8" y1="1155.5" x2="1246.8" y2="1164.5" stroke="#000" stroke-width="2.2"/>
<text x="1246.8" y="1183.0" font-size="12.3" text-anchor="middle">0.6</text>
<line x1="1016.5" y1="962.2" x2="1025.5" y2="962.2" stroke="#000" stroke-width="2.2"/>
<text x="0" y="0" font-size="12.3" text-anchor="middle" transform="translate(1007.0,962.2) rotate(-90)">0.6</text>
<line x1="1316.0" y1="1155.5" x2="1316.0" y2="1164.5" stroke="#000" stroke-width="2.2"/>
<text x="1316.0" y="1183.0" font-size="12.3" text-anchor="middle">0.8</text>
<line x1="1016.5" y1="902.0" x2="1025.5" y2="902.0" stroke="#000" stroke-width="2.2"/>
<text x="0" y="0" font-size="12.3" text-anchor="middle" transform="translate(1007.0,902.0) rotate(-90)">0.8</text>
<line x1="1385.1" y1="1155.5" x2="1385.1" y2="1164.5" stroke="#000" stroke-width="2.2"/>
<text x="1385.1" y="1183.0" font-size="12.3" text-anchor="middle">1.0</text>
<line x1="1016.5" y1="841.8" x2="1025.5" y2="841.8" stroke="#000" stroke-width="2.2"/>
<text x="0" y="0" font-size="12.3" text-anchor="middle" transform="translate(1007.0,841.8) rotate(-90)">1.0</text>
<text x="1212.2" y="1214.8" font-size="13" text-anchor="middle">1−Specificity</text>
<text x="0" y="0" font-size="13" text-anchor="middle" transform="translate(976.5,992) rotate(-90)">Sensitivity</text>
<line x1="1190.8" y1="1061.3" x2="1213.3" y2="1061.3" stroke="#E61919" stroke-width="5.5" stroke-linecap="round"/>
<text x="1225.3" y="1066.0" font-size="13">AgingTMEscore, AUC=0.818</text>
<line x1="1190.8" y1="1077.0" x2="1213.3" y2="1077.0" stroke="#E6C919" stroke-width="5.5" stroke-linecap="round"/>
<text x="1225.3" y="1081.7" font-size="13">Nomogram, AUC=0.840</text>
<line x1="1190.8" y1="1092.6" x2="1213.3" y2="1092.6" stroke="#54E619" stroke-width="5.5" stroke-linecap="round"/>
<text x="1225.3" y="1097.3" font-size="13">Gender, AUC=0.496</text>
<line x1="1190.8" y1="1108.3" x2="1213.3" y2="1108.3" stroke="#19E68E" stroke-width="5.5" stroke-linecap="round"/>
<text x="1225.3" y="1113.0" font-size="13">Age, AUC=0.636</text>
<line x1="1190.8" y1="1124.0" x2="1213.3" y2="1124.0" stroke="#198EE6" stroke-width="5.5" stroke-linecap="round"/>
<text x="1225.3" y="1128.7" font-size="13">Grade, AUC=0.681</text>
<line x1="1190.8" y1="1139.6" x2="1213.3" y2="1139.6" stroke="#5419E6" stroke-width="5.5" stroke-linecap="round"/>
<text x="1225.3" y="1144.3" font-size="13">IDHmutation, AUC=0.618</text>
<text x="1409.0" y="796.7" font-size="43">f</text>
<polyline points="1512.2,1070.5 1782.0,1070.5" fill="none" stroke="#FF61CC" stroke-width="7"/>
<polyline points="1582.5,949.6 1721.5,1046.7" fill="none" stroke="#F8766D" stroke-width="7"/>
<polyline points="1615.5,1010.5 1781.7,1026.9" fill="none" stroke="#CD9600" stroke-width="7"/>
<polyline points="1599.7,983.4 1715.2,1052.7" fill="none" stroke="#00BFC4" stroke-width="7"/>
<polyline points="1615.5,1013.0 1702.5,1061.4" fill="none" stroke="#00A9FF" stroke-width="7"/>
<polyline points="1631.0,1043.7 1633.2,1048.6 1635.4,1053.6 1637.5,1058.6 1639.7,1063.7 1641.9,1068.8 1644.1,1074.0 1646.3,1079.2 1648.4,1084.5" fill="none" stroke="#00BE67" stroke-width="7"/>
<polyline points="1512.2,848.9 1581.3,947.6 1583.5,951.6 1585.7,955.5 1587.9,959.5 1590.0,963.6 1592.2,967.7 1594.4,971.8 1596.6,976.0 1598.8,980.2 1600.9,984.4 1603.1,988.7 1605.3,993.0 1607.5,997.4 1609.6,1001.8 1611.8,1006.3 1614.0,1010.8 1616.2,1015.4 1618.3,1020.0 1620.5,1024.6 1622.7,1029.3 1624.9,1034.1 1627.0,1038.9 1629.2,1043.7 1631.4,1048.6 1633.6,1053.6 1635.7,1058.6 1637.9,1063.7 1640.1,1068.8 1642.3,1074.0 1644.5,1079.2 1646.6,1084.5" fill="none" stroke="#C77CFF" stroke-width="7" stroke-linejoin="round"/>
<line x1="1498.8" y1="779.0" x2="1498.8" y2="1195.0" stroke="#000" stroke-width="5"/>
<line x1="1496.5" y1="1192.5" x2="1794.5" y2="1192.5" stroke="#000" stroke-width="5"/>
<line x1="1493.0" y1="797.5" x2="1498.0" y2="797.5" stroke="#333" stroke-width="5"/>
<text x="1491.0" y="803.3" font-size="15.7" text-anchor="end" fill="#1a1a1a">0.3</text>
<line x1="1493.0" y1="888.5" x2="1498.0" y2="888.5" stroke="#333" stroke-width="5"/>
<text x="1491.0" y="894.3" font-size="15.7" text-anchor="end" fill="#1a1a1a">0.2</text>
<line x1="1493.0" y1="979.5" x2="1498.0" y2="979.5" stroke="#333" stroke-width="5"/>
<text x="1491.0" y="985.3" font-size="15.7" text-anchor="end" fill="#1a1a1a">0.1</text>
<line x1="1493.0" y1="1070.5" x2="1498.0" y2="1070.5" stroke="#333" stroke-width="5"/>
<text x="1491.0" y="1076.3" font-size="15.7" text-anchor="end" fill="#1a1a1a">0.0</text>
<line x1="1493.0" y1="1161.5" x2="1498.0" y2="1161.5" stroke="#333" stroke-width="5"/>
<text x="1491.0" y="1167.3" font-size="15.7" text-anchor="end" fill="#1a1a1a">−0.1</text>
<line x1="1512.2" y1="1193.0" x2="1512.2" y2="1197.5" stroke="#333" stroke-width="5"/>
<text x="1512.2" y="1213.7" font-size="15.7" text-anchor="middle" fill="#1a1a1a">0.0</text>
<line x1="1565.0" y1="1193.0" x2="1565.0" y2="1197.5" stroke="#333" stroke-width="5"/>
<text x="1565.0" y="1213.7" font-size="15.7" text-anchor="middle" fill="#1a1a1a">0.1</text>
<line x1="1617.8" y1="1193.0" x2="1617.8" y2="1197.5" stroke="#333" stroke-width="5"/>
<text x="1617.8" y="1213.7" font-size="15.7" text-anchor="middle" fill="#1a1a1a">0.2</text>
<line x1="1670.5" y1="1193.0" x2="1670.5" y2="1197.5" stroke="#333" stroke-width="5"/>
<text x="1670.5" y="1213.7" font-size="15.7" text-anchor="middle" fill="#1a1a1a">0.3</text>
<line x1="1723.3" y1="1193.0" x2="1723.3" y2="1197.5" stroke="#333" stroke-width="5"/>
<text x="1723.3" y="1213.7" font-size="15.7" text-anchor="middle" fill="#1a1a1a">0.4</text>
<line x1="1776.1" y1="1193.0" x2="1776.1" y2="1197.5" stroke="#333" stroke-width="5"/>
<text x="1776.1" y="1213.7" font-size="15.7" text-anchor="middle" fill="#1a1a1a">0.5</text>
<text x="1647.2" y="1234.6" font-size="19" text-anchor="middle">Risk Threshold</text>
<text x="0" y="0" font-size="19" text-anchor="middle" transform="translate(1452.5,985.4) rotate(-90)">Net Benefit</text>
<rect x="1826.4" y="908.9" width="18" height="9" fill="#F8766D"/>
<text x="1856.0" y="918.7" font-size="15.2">Nomogram</text>
<rect x="1826.4" y="931.0" width="18" height="9" fill="#CD9600"/>
<text x="1856.0" y="940.8" font-size="15.2">AgingTMEscoreGroup</text>
<rect x="1826.4" y="953.2" width="18" height="9" fill="#7CAE00"/>
<text x="1856.0" y="963.0" font-size="15.2">Age</text>
<rect x="1826.4" y="975.3" width="18" height="9" fill="#00BE67"/>
<text x="1856.0" y="985.1" font-size="15.2">Gender</text>
<rect x="1826.4" y="997.5" width="18" height="9" fill="#00BFC4"/>
<text x="1856.0" y="1007.3" font-size="15.2">Grade</text>
<rect x="1826.4" y="1019.7" width="18" height="9" fill="#00A9FF"/>
<text x="1856.0" y="1029.5" font-size="15.2">IDHmutation</text>
<rect x="1826.4" y="1041.8" width="18" height="9" fill="#C77CFF"/>
<text x="1856.0" y="1051.6" font-size="15.2">All</text>
<rect x="1826.4" y="1064.0" width="18" height="9" fill="#FF61CC"/>
<text x="1856.0" y="1073.8" font-size="15.2">None</text>
</svg></body></html>
